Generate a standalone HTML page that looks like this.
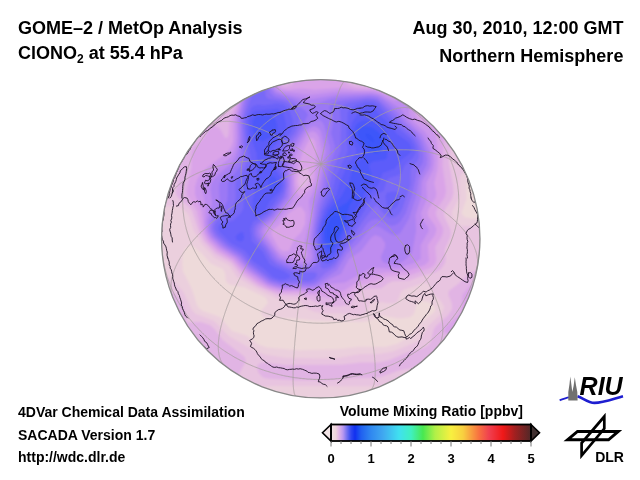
<!DOCTYPE html>
<html><head><meta charset="utf-8"><style>
html,body{margin:0;padding:0;background:#fff;width:640px;height:480px;overflow:hidden}
svg{display:block}
text{font-family:"Liberation Sans",Arial,Helvetica,sans-serif;font-weight:bold;fill:#000}
</style></head><body>
<svg width="640" height="480" viewBox="0 0 640 480">
<defs>
<clipPath id="gc"><circle cx="320.75" cy="238.75" r="159.4"/></clipPath>
<filter id="bl" x="-10%" y="-10%" width="120%" height="120%"><feGaussianBlur stdDeviation="1.3"/></filter>
<linearGradient id="cb" x1="0" x2="1" y1="0" y2="0">
<stop offset="0" stop-color="#f2e4e6"/>
<stop offset="0.024" stop-color="#eed4dc"/>
<stop offset="0.04" stop-color="#e2b6e6"/>
<stop offset="0.06" stop-color="#b898f0"/>
<stop offset="0.08" stop-color="#7070f0"/>
<stop offset="0.10" stop-color="#3048f0"/>
<stop offset="0.12" stop-color="#1030f0"/>
<stop offset="0.15" stop-color="#2060f0"/>
<stop offset="0.20" stop-color="#3088f0"/>
<stop offset="0.26" stop-color="#40a8f0"/>
<stop offset="0.34" stop-color="#40e0f0"/>
<stop offset="0.40" stop-color="#40f0c0"/>
<stop offset="0.46" stop-color="#48e850"/>
<stop offset="0.52" stop-color="#b0f048"/>
<stop offset="0.60" stop-color="#f8f040"/>
<stop offset="0.66" stop-color="#f8d040"/>
<stop offset="0.70" stop-color="#f8a040"/>
<stop offset="0.74" stop-color="#f87040"/>
<stop offset="0.79" stop-color="#f04050"/>
<stop offset="0.86" stop-color="#f01818"/>
<stop offset="0.92" stop-color="#a02020"/>
<stop offset="1" stop-color="#502828"/>
</linearGradient>
</defs>
<g font-size="18">
<text x="18" y="33.7">GOME–2 / MetOp Analysis</text>
<text x="18" y="59.1">ClONO<tspan font-size="12" dy="4">2</tspan><tspan dy="-4"> at 55.4 hPa</tspan></text>
<text x="623.6" y="33.9" text-anchor="end">Aug 30, 2010, 12:00 GMT</text>
<text x="623.4" y="62" text-anchor="end">Northern Hemisphere</text>
</g>
<g font-size="14">
<text x="18" y="417.2">4DVar Chemical Data Assimilation</text>
<text x="18" y="439.7">SACADA Version 1.7</text>
<text x="18" y="461.5">http://wdc.dlr.de</text>
<text x="431.3" y="415.5" text-anchor="middle">Volume Mixing Ratio [ppbv]</text>
</g>
<!-- globe -->
<g clip-path="url(#gc)">
<circle cx="320.75" cy="238.75" r="159.4" fill="#efdbdb"/>
<g filter="url(#bl)"><rect x="150" y="70" width="340" height="340" fill="#eedada"/><path d="M527.0,445.2 112.8,445.0 113.0,30.8 527.1,31.0 527.0,177.4 493.0,177.6 477.0,176.7 471.0,177.8 468.8,179.0 466.2,183.0 466.5,199.0 461.4,213.0 464.4,217.0 471.0,218.6 527.0,218.6 527.0,445.2Z M340.3,349.0 359.0,346.7 385.0,347.0 397.0,344.0 413.0,334.2 421.0,322.5 433.4,313.0 435.0,310.8 434.9,307.0 429.0,302.3 421.0,300.6 417.0,303.0 414.2,313.0 413.0,315.1 409.0,317.6 399.0,318.4 383.0,315.8 369.0,320.7 361.0,322.1 317.0,320.7 293.0,318.3 267.0,318.3 263.0,316.8 260.6,313.0 261.0,311.0 267.9,303.0 266.7,299.0 264.6,297.0 243.7,287.0 229.0,284.5 225.9,281.0 225.0,272.7 222.9,269.0 211.0,263.7 201.0,252.4 193.0,246.1 189.0,245.7 184.7,249.0 182.2,257.0 182.8,271.0 191.9,289.0 197.0,305.1 199.9,309.0 203.0,311.0 219.9,317.0 232.0,331.0 247.0,335.8 259.0,344.8 267.0,347.6 299.0,350.2 340.3,349.0Z" fill="#ebcfdd" fill-rule="evenodd"/><path d="M527.0,445.1 413.9,445.0 413.9,387.0 413.0,383.0 409.0,381.2 389.0,385.6 381.0,386.4 273.0,385.8 262.5,387.0 259.0,389.2 257.2,395.0 258.9,411.0 258.5,445.0 112.9,445.0 113.0,276.5 147.0,276.8 161.0,275.0 167.0,275.9 173.0,280.2 183.0,291.3 191.6,309.0 195.0,313.4 214.2,321.0 229.0,336.3 255.1,351.0 265.0,354.5 287.0,358.1 335.0,358.4 359.0,354.2 379.0,354.1 393.0,351.5 415.0,342.5 420.6,339.0 429.0,325.0 442.2,313.0 444.2,307.0 441.0,301.2 431.9,293.0 429.0,284.7 425.0,282.6 403.0,289.9 400.5,293.0 397.6,301.0 395.0,302.9 389.0,303.2 370.5,301.0 367.5,311.0 361.0,315.1 355.0,315.4 341.0,313.4 323.0,313.4 313.0,311.5 308.2,309.0 299.1,301.0 293.0,299.9 283.0,300.2 277.0,298.7 257.0,289.0 237.0,277.1 229.0,265.3 215.0,258.3 202.3,245.0 193.9,231.0 188.8,215.0 183.0,208.8 177.0,206.6 171.0,205.9 113.0,205.9 113.0,30.9 220.7,31.0 220.9,65.0 219.8,81.0 221.0,87.0 227.0,100.8 229.0,100.6 230.3,95.0 229.2,81.0 229.4,31.0 527.0,31.0 527.0,170.4 473.0,170.4 467.0,171.0 463.0,172.6 460.9,175.0 459.6,179.0 459.6,197.0 452.3,211.0 451.7,215.0 455.0,222.1 461.0,225.9 527.0,225.6 527.0,445.1Z" fill="#e8c4e0" fill-rule="evenodd"/><path d="M349.0,305.0 339.0,306.5 327.0,305.9 301.0,296.3 277.0,294.7 257.0,286.0 241.0,274.9 231.0,262.8 215.0,253.4 203.5,241.0 199.4,233.0 192.1,211.0 189.0,206.8 179.4,199.0 176.3,195.0 175.7,191.0 178.5,181.0 178.8,175.0 177.0,165.4 174.6,161.0 171.0,158.8 165.0,157.8 113.0,158.1 113.0,31.0 210.5,31.0 210.8,65.0 209.5,83.0 211.0,87.0 217.8,97.0 222.3,111.0 225.0,112.4 231.0,108.0 234.2,99.0 233.6,31.0 467.4,31.0 467.2,87.0 463.6,93.0 453.0,100.1 450.6,107.0 451.9,123.0 449.0,163.0 453.1,185.0 453.6,193.0 451.9,199.0 445.3,209.0 444.0,213.0 444.5,217.0 450.2,229.0 450.9,233.0 450.4,237.0 445.0,249.0 445.7,259.0 445.0,263.0 441.1,269.0 435.0,272.6 423.0,275.5 409.0,280.6 393.0,281.2 388.5,283.0 381.0,288.6 367.0,288.7 361.0,289.9 356.4,293.0 351.5,303.0 349.0,305.0Z M389.2,83.0 389.8,79.0 389.0,75.6 387.0,73.2 385.0,72.8 375.0,75.8 361.0,75.2 356.5,79.0 357.0,81.4 361.0,83.5 375.0,83.3 385.0,85.0 389.2,83.0Z M527.0,445.0 448.3,445.0 448.6,391.0 445.0,385.0 435.6,379.0 429.0,369.9 425.0,367.3 417.0,367.0 399.0,370.5 381.0,376.9 375.0,377.9 357.0,377.9 329.0,380.4 299.0,380.5 269.0,378.8 263.0,377.4 258.6,373.0 257.2,369.0 257.4,365.0 260.6,363.0 265.0,362.6 285.0,365.0 341.0,364.8 361.0,362.6 379.0,362.4 389.0,360.3 407.0,352.5 423.0,348.3 428.7,345.0 431.0,341.0 433.1,331.0 435.1,327.0 448.2,315.0 452.0,309.0 451.7,303.0 448.4,295.0 448.7,291.0 459.0,283.3 469.0,273.0 477.0,270.3 493.0,271.5 527.0,271.3 527.0,445.0Z M223.0,445.0 113.0,445.0 113.0,288.6 147.0,288.9 163.0,287.5 169.0,289.1 177.0,295.5 182.3,303.0 184.5,309.0 187.0,322.3 201.0,322.0 210.0,325.0 214.4,329.0 223.0,340.3 244.7,357.0 246.0,361.0 237.4,377.0 227.0,385.1 223.5,391.0 223.8,445.0 223.0,445.0Z" fill="#e1b4e4" fill-rule="evenodd"/><path d="M339.0,299.2 298.3,293.0 277.0,292.3 265.0,288.0 257.0,283.3 243.0,272.9 232.5,261.0 217.0,251.5 206.6,241.0 201.6,231.0 196.9,211.0 187.0,195.0 186.8,189.0 191.3,167.0 191.4,153.0 193.7,147.0 202.9,139.0 209.0,129.0 213.0,126.2 217.0,126.5 220.3,129.0 225.0,137.7 227.0,138.0 228.6,135.0 229.6,119.0 235.0,106.6 236.7,99.0 236.2,31.0 283.5,31.0 283.0,52.6 285.0,59.3 287.0,59.9 289.9,51.0 289.3,31.0 351.8,31.0 351.2,51.0 353.9,65.0 352.3,69.0 343.9,79.0 344.0,81.0 349.1,85.0 355.3,87.0 375.0,87.5 389.0,90.7 393.0,89.5 395.4,83.0 394.8,31.0 460.3,31.0 460.0,65.0 461.3,83.0 458.0,89.0 447.1,97.0 444.5,105.0 444.7,121.0 442.4,165.0 446.1,191.0 444.8,197.0 437.0,209.0 435.7,213.0 436.9,217.0 442.6,227.0 443.3,231.0 441.4,237.0 435.1,247.0 436.4,259.0 435.5,263.0 433.0,266.2 429.0,268.6 411.0,274.7 387.0,276.5 375.0,281.8 361.0,285.0 353.8,289.0 345.0,297.3 339.0,299.2Z M291.6,85.0 294.5,81.0 294.0,77.0 287.0,67.2 285.0,67.5 280.6,75.0 280.3,83.0 281.7,85.0 285.0,86.4 291.6,85.0Z M306.4,187.0 309.4,183.0 310.7,177.0 309.5,171.0 307.0,168.0 305.0,168.1 301.0,171.4 298.9,175.0 297.6,181.0 299.0,186.8 301.0,188.6 303.0,188.9 306.4,187.0Z M527.0,350.0 473.0,350.3 467.6,347.0 462.1,339.0 459.0,336.5 445.0,333.0 443.8,331.0 444.8,327.0 458.4,315.0 461.2,311.0 462.5,295.0 468.8,287.0 473.0,284.1 477.0,283.1 493.0,285.0 527.0,284.7 527.0,350.0Z M171.0,349.1 163.0,350.6 113.0,350.1 113.0,300.1 147.0,300.5 163.0,298.8 167.0,299.7 171.0,302.1 174.9,307.0 175.9,311.0 173.7,327.0 176.1,341.0 175.0,345.5 171.0,349.1Z" fill="#daa4e8" fill-rule="evenodd"/><path d="M341.0,291.4 329.0,290.6 313.0,292.7 297.0,290.8 281.0,291.0 269.0,287.8 257.2,281.0 244.2,271.0 233.1,259.0 219.0,250.2 209.0,240.5 204.6,233.0 201.4,211.0 195.2,195.0 195.0,187.0 197.4,179.0 201.0,173.4 209.0,166.0 227.0,152.7 231.0,147.0 233.0,141.2 233.3,119.0 237.7,105.0 238.9,97.0 238.4,31.0 278.2,31.0 278.7,65.0 276.7,81.0 278.9,87.0 282.2,89.0 289.0,89.8 301.0,88.4 315.0,89.7 341.0,87.8 357.0,90.0 375.0,90.0 393.0,95.7 397.0,93.0 399.3,85.0 399.2,31.0 420.6,31.0 420.6,95.0 419.8,101.0 415.9,111.0 415.5,115.0 419.0,120.2 430.7,127.0 434.2,131.0 436.4,139.0 438.0,157.0 437.6,169.0 434.2,183.0 436.2,193.0 435.9,197.0 428.7,209.0 427.5,213.0 428.6,217.0 434.8,225.0 436.5,229.0 435.1,235.0 427.8,245.0 429.0,261.0 425.0,265.1 409.0,270.3 385.0,272.5 377.0,274.3 357.0,282.0 345.0,289.9 341.0,291.4Z M304.7,195.0 311.0,188.1 314.5,179.0 316.6,149.0 315.2,141.0 313.0,138.1 311.0,138.1 309.0,139.9 303.1,151.0 295.0,177.0 295.0,185.0 297.0,192.7 299.0,195.8 301.0,196.7 304.7,195.0Z M289.0,251.0 294.2,239.0 301.0,232.5 305.0,223.8 305.5,213.0 301.0,206.6 297.0,207.2 289.0,213.0 279.2,225.0 271.4,231.0 271.6,235.0 279.0,248.2 283.0,251.3 289.0,251.0Z" fill="#cc98ec" fill-rule="evenodd"/><path d="M319.0,289.3 311.0,290.3 297.0,288.9 281.0,289.2 267.0,285.0 247.0,270.7 235.0,258.1 219.0,247.4 210.3,239.0 206.0,231.0 205.0,223.0 205.8,207.0 202.4,191.0 203.4,183.0 209.3,175.0 229.0,158.8 233.0,152.6 235.4,145.0 236.3,137.0 235.8,119.0 239.7,105.0 240.8,97.0 240.5,31.0 275.4,31.0 275.7,65.0 274.4,81.0 275.9,87.0 280.5,91.0 311.0,94.8 337.0,91.4 373.0,91.9 381.0,93.9 391.0,99.5 395.0,100.7 399.0,99.6 401.0,97.2 403.7,87.0 403.8,31.0 414.9,31.0 414.9,93.0 413.4,101.0 409.5,109.0 409.2,115.0 412.8,121.0 424.3,131.0 428.8,137.0 432.5,147.0 434.4,161.0 433.0,170.2 426.3,183.0 427.1,199.0 421.0,213.0 422.1,219.0 428.0,227.0 428.9,231.0 420.7,245.0 420.6,259.0 415.0,262.7 399.0,267.9 389.0,268.6 375.0,267.6 371.0,268.4 345.0,282.6 331.0,283.9 319.0,289.3Z M306.0,259.0 307.7,255.0 304.6,243.0 310.2,217.0 308.9,201.0 316.9,183.0 321.7,151.0 318.8,137.0 316.5,133.0 313.0,131.2 309.0,132.8 306.9,135.0 296.1,155.0 292.9,175.0 293.8,197.0 292.0,203.0 276.6,221.0 268.7,227.0 265.7,231.0 267.0,235.6 277.0,250.7 281.0,254.6 287.0,257.3 299.0,260.2 303.0,260.2 306.0,259.0Z" fill="#be8cf0" fill-rule="evenodd"/><path d="M317.0,287.2 311.0,288.2 297.0,287.1 281.0,287.6 275.0,286.4 267.0,283.1 248.0,269.0 236.5,257.0 221.4,247.0 211.2,237.0 208.0,231.0 207.5,221.0 212.2,203.0 210.4,189.0 211.4,183.0 215.9,177.0 231.6,163.0 235.3,157.0 237.6,149.0 238.5,139.0 238.0,119.0 242.8,97.0 242.5,31.0 273.0,31.0 272.4,83.0 274.2,89.0 277.0,91.8 283.0,94.1 309.0,99.5 339.0,94.4 371.0,93.7 379.0,95.3 401.0,109.0 408.1,121.0 422.5,135.0 429.0,149.0 430.7,157.0 430.6,165.0 429.0,169.5 423.0,178.9 421.8,183.0 421.2,197.0 415.5,215.0 416.1,231.0 412.4,251.0 410.6,255.0 403.6,261.0 397.0,264.0 391.0,264.6 384.5,263.0 382.1,261.0 380.9,257.0 385.0,247.0 385.2,243.0 380.9,237.0 375.0,235.0 371.0,237.8 361.0,251.0 349.0,258.8 341.0,273.8 329.0,279.6 317.0,287.2Z M308.0,263.0 310.6,261.0 311.9,257.0 309.9,239.0 313.2,215.0 313.6,201.0 319.5,185.0 325.9,151.0 321.0,132.1 319.0,128.6 315.0,126.3 311.0,126.9 306.0,131.0 292.6,153.0 290.9,163.0 290.8,195.0 289.0,201.0 274.4,219.0 264.1,227.0 262.2,231.0 264.2,237.0 279.4,257.0 287.0,260.9 295.0,263.5 303.0,264.2 308.0,263.0Z" fill="#ac82f2" fill-rule="evenodd"/><path d="M315.0,285.3 309.0,286.2 297.0,285.2 281.0,285.9 269.0,282.2 249.0,267.3 239.0,256.6 224.4,247.0 213.6,237.0 210.1,231.0 209.4,227.0 210.1,221.0 217.8,207.0 219.8,201.0 218.9,187.0 219.7,183.0 222.2,179.0 235.6,165.0 239.7,155.0 240.7,143.0 240.1,119.0 244.8,97.0 244.5,31.0 270.7,31.0 270.3,83.0 271.4,89.0 275.0,93.5 293.4,99.0 305.0,103.8 311.0,104.9 317.0,104.1 329.0,99.2 337.0,97.7 369.0,95.6 377.0,96.6 383.0,100.0 397.0,111.6 405.9,123.0 416.9,133.0 422.3,141.0 426.0,151.0 427.3,159.0 426.7,165.0 419.1,179.0 416.5,195.0 409.0,218.7 401.0,231.9 399.0,234.1 395.0,235.5 391.0,234.3 379.0,226.8 375.0,226.2 371.0,227.8 358.7,243.0 347.0,254.1 337.0,270.3 315.0,285.3Z M303.0,267.0 311.0,265.0 314.2,261.0 314.6,255.0 312.6,235.0 316.7,205.0 322.2,187.0 325.3,169.0 330.0,153.0 329.8,147.0 324.0,125.0 321.4,121.0 319.0,120.2 313.0,121.2 307.0,125.0 289.6,151.0 287.6,159.0 289.1,185.0 287.8,197.0 273.0,217.0 262.5,225.0 259.2,231.0 261.0,237.0 277.8,259.0 291.0,265.2 303.0,267.0Z" fill="#9b78f5" fill-rule="evenodd"/><path d="M313.0,283.4 281.0,284.1 270.5,281.0 249.4,265.0 240.4,255.0 225.1,245.0 215.0,235.5 212.3,231.0 211.6,227.0 213.0,221.0 223.1,209.0 227.4,201.0 227.9,183.0 239.6,167.0 242.6,159.0 243.2,149.0 241.9,121.0 247.2,97.0 246.8,31.0 268.3,31.0 268.1,83.0 270.0,93.0 275.0,96.7 287.0,99.7 294.1,103.0 305.8,111.0 308.0,115.0 297.0,135.1 288.1,147.0 285.0,153.0 284.1,161.0 287.3,185.0 285.1,197.0 271.7,215.0 259.0,225.0 256.8,229.0 256.6,233.0 257.8,237.0 266.4,247.0 273.0,257.6 277.0,261.6 289.0,267.2 299.0,269.7 311.0,268.3 315.0,266.1 316.7,263.0 317.0,257.0 314.7,239.0 315.7,225.0 319.7,205.0 325.2,189.0 328.4,171.0 334.9,151.0 334.5,145.0 331.1,133.0 333.3,121.0 332.9,117.0 329.4,109.0 329.3,107.0 331.0,104.4 339.0,101.0 349.0,99.5 369.0,97.4 377.6,99.0 395.0,114.3 403.9,125.0 415.1,135.0 419.1,141.0 422.1,149.0 423.4,157.0 422.6,163.0 416.6,173.0 413.0,191.6 405.8,213.0 401.0,220.7 397.0,224.3 393.0,225.8 389.0,225.0 377.0,218.8 371.0,220.2 367.0,223.7 357.7,237.0 345.0,251.5 335.4,267.0 325.0,273.6 317.5,281.0 313.0,283.4Z" fill="#8a70f6" fill-rule="evenodd"/><path d="M309.0,281.3 297.0,280.3 281.0,282.2 271.0,279.0 251.0,263.3 241.9,253.0 228.6,245.0 217.0,234.3 214.3,229.0 214.5,225.0 216.8,221.0 227.4,213.0 234.7,203.0 235.8,197.0 235.3,183.0 244.0,169.0 246.2,163.0 246.6,153.0 243.9,123.0 245.0,115.0 250.6,99.0 249.3,81.0 249.5,31.0 265.6,31.0 265.3,93.0 266.1,97.0 269.2,99.0 281.0,100.7 287.5,103.0 294.6,109.0 299.4,117.0 298.6,123.0 295.0,132.5 284.0,147.0 280.6,155.0 280.9,163.0 285.3,179.0 285.4,187.0 284.2,193.0 282.3,197.0 269.0,214.7 255.4,225.0 253.9,229.0 254.0,235.0 256.8,241.0 264.7,249.0 271.0,259.6 277.0,264.7 295.0,272.4 313.0,271.9 316.8,273.0 317.0,275.0 314.7,279.0 309.0,281.3Z M329.0,267.7 323.0,268.7 320.8,267.0 316.9,243.0 316.6,231.0 321.0,209.8 328.0,193.0 331.4,175.0 340.4,151.0 341.0,123.0 339.7,109.0 343.0,105.1 348.4,103.0 367.0,99.6 375.0,100.3 379.6,103.0 401.8,127.0 413.2,137.0 418.5,147.0 419.0,157.3 417.3,161.0 410.8,169.0 410.4,185.0 402.2,209.0 399.0,214.2 395.0,217.3 389.0,217.4 383.0,213.0 377.0,205.0 375.0,205.8 363.0,220.9 335.1,263.0 329.0,267.7Z" fill="#7869f8" fill-rule="evenodd"/><path d="M259.0,90.4 257.0,90.9 255.0,89.5 253.0,83.0 253.6,31.0 261.6,31.0 262.3,81.0 261.3,87.0 259.0,90.4Z M329.0,263.8 325.0,263.4 321.6,257.0 318.7,243.0 318.6,229.0 323.0,210.9 331.5,195.0 335.8,177.0 347.8,151.0 346.2,133.0 347.8,113.0 349.7,109.0 356.4,105.0 365.0,102.5 373.0,102.4 377.6,105.0 399.0,129.0 411.0,139.0 415.0,146.3 415.4,153.0 413.0,157.7 405.0,165.0 401.0,173.5 399.0,175.0 389.0,178.1 386.6,181.0 383.5,191.0 377.0,193.6 372.7,197.0 336.2,257.0 333.0,261.2 329.0,263.8Z M285.0,279.4 279.0,279.5 272.8,277.0 264.5,269.0 252.9,261.0 245.0,250.7 230.8,243.0 220.5,233.0 218.0,229.0 219.0,225.1 221.0,223.5 233.0,220.8 240.9,213.0 243.0,209.0 243.9,201.0 242.3,185.0 243.5,181.0 249.3,171.0 251.2,161.0 246.6,133.0 246.5,119.0 251.0,108.3 253.0,106.3 257.0,104.8 265.0,105.2 277.0,103.5 283.0,104.8 286.4,107.0 289.6,111.0 293.0,120.8 292.7,127.0 291.0,132.0 279.2,147.0 276.1,155.0 276.8,163.0 283.3,179.0 283.6,185.0 282.5,191.0 267.0,213.2 253.0,221.7 250.4,229.0 251.8,241.0 263.0,252.1 269.0,263.4 273.0,266.6 283.7,271.0 289.8,275.0 290.2,277.0 285.0,279.4Z M393.0,209.5 389.0,208.1 386.9,205.0 385.4,197.0 387.0,192.4 395.0,191.6 397.0,192.2 399.0,194.4 398.7,203.0 396.7,207.0 393.0,209.5Z" fill="#6a62f9" fill-rule="evenodd"/><path d="M329.0,259.7 325.0,257.8 321.0,245.9 320.0,233.0 321.9,221.0 326.5,209.0 336.3,195.0 339.8,183.0 347.4,165.0 356.3,153.0 356.2,149.0 351.8,141.0 350.2,135.0 350.3,129.0 351.9,123.0 357.0,114.7 361.9,109.0 367.0,106.5 371.0,106.3 375.0,108.6 379.3,115.0 389.0,123.7 397.0,134.1 409.0,142.4 411.2,147.0 411.2,151.0 409.0,154.3 401.0,160.0 395.0,168.5 382.7,173.0 377.9,185.0 369.0,194.6 337.0,251.2 333.0,257.1 329.0,259.7Z M261.0,213.5 255.0,213.8 253.0,212.0 252.1,209.0 252.5,201.0 257.0,182.0 257.3,161.0 256.4,153.0 249.3,133.0 248.9,121.0 251.0,114.8 255.0,111.1 277.0,108.7 281.0,110.3 283.0,113.0 285.9,123.0 286.1,129.0 283.3,135.0 271.7,149.0 270.0,157.0 272.0,165.0 280.2,177.0 281.3,181.0 281.1,187.0 279.0,192.0 269.9,201.0 265.0,210.6 261.0,213.5Z M241.0,241.6 237.0,240.5 235.6,237.0 237.0,234.7 241.0,232.0 243.0,232.3 244.1,237.0 243.0,240.5 241.0,241.6Z" fill="#5c5cfa" fill-rule="evenodd"/><path d="M263.0,141.0 259.0,140.1 255.0,136.0 252.5,129.0 252.7,121.0 255.0,117.0 259.0,115.1 271.0,115.8 273.3,117.0 276.1,121.0 277.3,127.0 276.5,131.0 271.0,137.3 263.0,141.0Z M329.0,255.2 327.0,254.4 325.0,251.6 322.2,241.0 321.9,231.0 323.9,221.0 329.0,210.1 340.9,197.0 349.6,181.0 352.2,169.0 354.1,165.0 363.8,157.0 363.9,153.0 362.4,149.0 354.2,137.0 353.6,133.0 354.9,127.0 357.0,123.9 361.0,121.1 365.0,120.1 371.0,120.7 383.0,126.8 387.5,133.0 388.4,139.0 387.1,157.0 385.0,159.7 374.7,161.0 370.0,163.0 369.2,167.0 371.9,177.0 371.9,181.0 366.4,189.0 361.0,201.7 353.3,213.0 337.0,246.5 333.0,252.5 329.0,255.2Z M275.0,189.2 271.0,189.3 269.0,186.4 268.6,179.0 271.0,176.0 275.0,177.0 277.6,181.0 277.7,185.0 275.0,189.2Z" fill="#4d59fa" fill-rule="evenodd"/><path d="M377.0,153.8 371.0,152.3 359.0,138.0 357.5,133.0 358.8,129.0 361.0,127.0 365.0,125.9 371.0,127.1 377.5,131.0 380.8,135.0 382.5,141.0 382.2,147.0 380.8,151.0 377.0,153.8Z M331.0,249.2 329.0,249.8 327.0,248.3 324.1,239.0 324.1,229.0 326.9,219.0 333.0,210.7 346.3,203.0 353.0,195.5 355.0,197.1 349.8,205.0 342.7,229.0 337.0,241.1 331.0,249.2Z" fill="#3e56fa" fill-rule="evenodd"/><path d="M373.0,142.8 367.0,138.3 365.0,134.2 367.0,133.1 371.1,135.0 373.9,139.0 374.3,141.0 373.0,142.8Z M333.0,241.2 331.0,242.9 329.0,242.9 327.0,239.6 326.2,233.0 326.9,227.0 331.0,218.3 335.0,215.2 338.5,215.0 340.7,219.0 340.1,225.0 337.0,234.1 333.0,241.2Z" fill="#3753f9" fill-rule="evenodd"/></g>
<path d="M296.2,396.2 296.1,396.2 296.0,396.2 295.9,396.1 295.8,396.1 295.7,396.0 295.6,395.9 295.5,395.8 295.4,395.7 295.3,395.6 295.2,395.4 295.1,395.3 295.0,395.1 294.9,395.0 294.8,394.8 294.7,394.6 294.7,394.4 294.6,394.2 294.5,393.9 294.4,393.7 294.4,393.4 294.3,393.2 294.2,392.9 294.1,392.6 294.1,392.3 294.0,392.0 294.0,391.7 293.9,391.3 293.8,391.0 293.8,390.6 293.7,390.3 293.7,389.9 293.6,389.5 293.6,389.1 293.5,388.7 293.5,388.2 293.5,387.8 293.4,387.4 293.4,386.9 293.3,386.4 293.3,385.9 293.3,385.4 293.2,384.9 293.2,384.4 293.2,383.9 293.2,383.3 293.2,382.8 293.1,382.2 293.1,381.7 293.1,381.1 293.1,380.5 293.1,379.9 293.1,379.3 293.1,378.6 293.1,378.0 293.1,377.4 293.1,376.7 293.1,376.0 293.1,375.3 293.1,374.7 293.1,374.0 293.1,373.2 293.1,372.5 293.1,371.8 293.2,371.1 293.2,370.3 293.2,369.5 293.2,368.8 293.2,368.0 293.3,367.2 293.3,366.4 293.3,365.6 293.4,364.8 293.4,363.9 293.5,363.1 293.5,362.3 293.5,361.4 293.6,360.5 293.6,359.7 293.7,358.8 293.7,357.9 293.8,357.0 293.8,356.1 293.9,355.1 294.0,354.2 294.0,353.3 294.1,352.3 294.1,351.4 294.2,350.4 294.3,349.4 294.4,348.4 294.4,347.4 294.5,346.4 294.6,345.4 294.7,344.4 294.7,343.4 294.8,342.4 294.9,341.3 295.0,340.3 295.1,339.2 295.2,338.2 295.3,337.1 295.4,336.0 295.5,334.9 295.6,333.8 295.7,332.7 295.8,331.6 295.9,330.5 296.0,329.4 296.1,328.3 296.2,327.1 296.3,326.0 296.4,324.8 296.5,323.7 296.7,322.5 296.8,321.4 296.9,320.2 297.0,319.0 297.1,317.8 297.3,316.6 297.4,315.4 297.5,314.2 297.7,313.0 297.8,311.8 297.9,310.6 298.1,309.4 298.2,308.1 298.4,306.9 298.5,305.7 298.6,304.4 298.8,303.2 298.9,301.9 299.1,300.6 299.2,299.4 299.4,298.1 299.5,296.8 299.7,295.5 299.9,294.3 300.0,293.0 300.2,291.7 300.3,290.4 300.5,289.1 300.7,287.8 300.8,286.5 301.0,285.2 301.2,283.8 301.3,282.5 301.5,281.2 301.7,279.9 301.9,278.5 302.0,277.2 302.2,275.9 302.4,274.5 302.6,273.2 302.8,271.9 303.0,270.5 303.1,269.2 303.3,267.8 303.5,266.5 303.7,265.1 303.9,263.8 304.1,262.4 304.3,261.0 304.5,259.7 304.7,258.3 304.9,256.9 305.1,255.6 305.3,254.2 305.5,252.8 305.7,251.5 305.9,250.1 306.1,248.7 306.3,247.4 306.5,246.0 306.7,244.6 306.9,243.2 307.1,241.9 307.3,240.5 307.5,239.1 307.8,237.7 308.0,236.4 308.2,235.0 308.4,233.6 308.6,232.2 308.8,230.9 309.1,229.5 309.3,228.1 309.5,226.8 309.7,225.4 309.9,224.0 310.2,222.7 310.4,221.3 310.6,219.9 310.8,218.6 311.1,217.2 311.3,215.8 311.5,214.5 311.7,213.1 312.0,211.8 312.2,210.4 312.4,209.1 312.7,207.7 312.9,206.4 313.1,205.0 313.4,203.7 313.6,202.3 313.8,201.0 314.1,199.7 314.3,198.3 314.5,197.0 314.8,195.7 315.0,194.4 315.2,193.1 315.5,191.7 315.7,190.4 315.9,189.1 316.2,187.8 316.4,186.5 316.7,185.2 316.9,183.9 317.1,182.6 317.4,181.4 317.6,180.1 317.9,178.8 318.1,177.5 318.3,176.3 318.6,175.0 318.8,173.8 319.1,172.5 319.3,171.3 319.5,170.0 319.8,168.8 320.0,167.6 320.3,166.3 320.5,165.1 320.8,163.9 M369.5,390.5 369.8,390.4 370.0,390.3 370.2,390.2 370.4,390.1 370.6,390.0 370.7,389.9 370.9,389.7 371.1,389.6 371.3,389.4 371.5,389.2 371.6,389.0 371.8,388.8 372.0,388.6 372.1,388.4 372.3,388.2 372.5,387.9 372.6,387.7 372.7,387.4 372.9,387.1 373.0,386.8 373.2,386.5 373.3,386.2 373.4,385.9 373.5,385.5 373.6,385.2 373.8,384.8 373.9,384.4 374.0,384.1 374.1,383.7 374.2,383.3 374.3,382.9 374.4,382.4 374.4,382.0 374.5,381.5 374.6,381.1 374.7,380.6 374.7,380.1 374.8,379.6 374.9,379.1 374.9,378.6 375.0,378.1 375.0,377.6 375.1,377.0 375.1,376.5 375.1,375.9 375.2,375.3 375.2,374.7 375.2,374.1 375.2,373.5 375.2,372.9 375.3,372.3 375.3,371.7 375.3,371.0 375.3,370.3 375.3,369.7 375.2,369.0 375.2,368.3 375.2,367.6 375.2,366.9 375.2,366.2 375.1,365.5 375.1,364.7 375.1,364.0 375.0,363.2 375.0,362.5 374.9,361.7 374.9,360.9 374.8,360.1 374.7,359.3 374.7,358.5 374.6,357.7 374.5,356.8 374.4,356.0 374.4,355.2 374.3,354.3 374.2,353.4 374.1,352.6 374.0,351.7 373.9,350.8 373.8,349.9 373.6,349.0 373.5,348.1 373.4,347.1 373.3,346.2 373.2,345.3 373.0,344.3 372.9,343.3 372.7,342.4 372.6,341.4 372.5,340.4 372.3,339.4 372.1,338.4 372.0,337.4 371.8,336.4 371.6,335.4 371.5,334.4 371.3,333.3 371.1,332.3 370.9,331.3 370.7,330.2 370.6,329.1 370.4,328.1 370.2,327.0 370.0,325.9 369.8,324.8 369.5,323.7 369.3,322.6 369.1,321.5 368.9,320.4 368.7,319.3 368.4,318.1 368.2,317.0 368.0,315.9 367.7,314.7 367.5,313.6 367.2,312.4 367.0,311.3 366.7,310.1 366.5,308.9 366.2,307.7 365.9,306.5 365.7,305.4 365.4,304.2 365.1,303.0 364.9,301.8 364.6,300.6 364.3,299.3 364.0,298.1 363.7,296.9 363.4,295.7 363.1,294.4 362.8,293.2 362.5,292.0 362.2,290.7 361.9,289.5 361.6,288.2 361.3,287.0 360.9,285.7 360.6,284.4 360.3,283.2 360.0,281.9 359.6,280.6 359.3,279.4 359.0,278.1 358.6,276.8 358.3,275.5 357.9,274.2 357.6,272.9 357.2,271.6 356.9,270.3 356.5,269.0 356.2,267.7 355.8,266.4 355.4,265.1 355.1,263.8 354.7,262.5 354.3,261.2 353.9,259.9 353.6,258.6 353.2,257.3 352.8,255.9 352.4,254.6 352.0,253.3 351.6,252.0 351.2,250.7 350.8,249.3 350.4,248.0 350.0,246.7 349.6,245.4 349.2,244.0 348.8,242.7 348.4,241.4 348.0,240.1 347.6,238.7 347.2,237.4 346.8,236.1 346.3,234.8 345.9,233.4 345.5,232.1 345.1,230.8 344.6,229.5 344.2,228.1 343.8,226.8 343.4,225.5 342.9,224.2 342.5,222.9 342.1,221.5 341.6,220.2 341.2,218.9 340.7,217.6 340.3,216.3 339.8,215.0 339.4,213.7 338.9,212.4 338.5,211.1 338.0,209.7 337.6,208.4 337.1,207.1 336.7,205.9 336.2,204.6 335.8,203.3 335.3,202.0 334.9,200.7 334.4,199.4 333.9,198.1 333.5,196.9 333.0,195.6 332.5,194.3 332.1,193.0 331.6,191.8 331.2,190.5 330.7,189.3 330.2,188.0 329.7,186.8 329.3,185.5 328.8,184.3 328.3,183.1 327.9,181.8 327.4,180.6 326.9,179.4 326.4,178.2 326.0,176.9 325.5,175.7 325.0,174.5 324.6,173.3 324.1,172.1 323.6,170.9 323.1,169.8 322.7,168.6 322.2,167.4 321.7,166.2 321.2,165.1 320.8,163.9 M436.5,348.3 436.9,347.9 437.2,347.5 437.5,347.1 437.8,346.7 438.1,346.3 438.4,345.9 438.7,345.5 439.0,345.1 439.2,344.6 439.5,344.2 439.7,343.7 440.0,343.3 440.2,342.8 440.4,342.3 440.6,341.8 440.8,341.3 441.0,340.8 441.2,340.3 441.4,339.8 441.5,339.3 441.7,338.8 441.8,338.2 441.9,337.7 442.1,337.1 442.2,336.5 442.3,336.0 442.4,335.4 442.5,334.8 442.6,334.2 442.6,333.6 442.7,333.0 442.7,332.4 442.8,331.8 442.8,331.1 442.8,330.5 442.9,329.9 442.9,329.2 442.9,328.6 442.8,327.9 442.8,327.2 442.8,326.6 442.7,325.9 442.7,325.2 442.6,324.5 442.6,323.8 442.5,323.1 442.4,322.4 442.3,321.6 442.2,320.9 442.1,320.2 441.9,319.4 441.8,318.7 441.7,317.9 441.5,317.2 441.4,316.4 441.2,315.6 441.0,314.8 440.8,314.1 440.6,313.3 440.4,312.5 440.2,311.7 440.0,310.9 439.7,310.1 439.5,309.2 439.2,308.4 439.0,307.6 438.7,306.8 438.4,305.9 438.1,305.1 437.8,304.2 437.5,303.4 437.2,302.5 436.9,301.7 436.5,300.8 436.2,299.9 435.9,299.0 435.5,298.2 435.1,297.3 434.7,296.4 434.4,295.5 434.0,294.6 433.6,293.7 433.2,292.8 432.7,291.9 432.3,291.0 431.9,290.0 431.4,289.1 431.0,288.2 430.5,287.3 430.0,286.3 429.5,285.4 429.1,284.4 428.6,283.5 428.1,282.5 427.5,281.6 427.0,280.6 426.5,279.7 426.0,278.7 425.4,277.8 424.9,276.8 424.3,275.8 423.7,274.8 423.2,273.9 422.6,272.9 422.0,271.9 421.4,270.9 420.8,269.9 420.2,268.9 419.5,268.0 418.9,267.0 418.3,266.0 417.6,265.0 417.0,264.0 416.3,263.0 415.6,262.0 415.0,261.0 414.3,259.9 413.6,258.9 412.9,257.9 412.2,256.9 411.5,255.9 410.8,254.9 410.1,253.9 409.3,252.9 408.6,251.8 407.8,250.8 407.1,249.8 406.3,248.8 405.6,247.8 404.8,246.7 404.0,245.7 403.2,244.7 402.5,243.7 401.7,242.6 400.9,241.6 400.1,240.6 399.2,239.6 398.4,238.6 397.6,237.5 396.8,236.5 395.9,235.5 395.1,234.5 394.2,233.4 393.4,232.4 392.5,231.4 391.7,230.4 390.8,229.3 389.9,228.3 389.0,227.3 388.1,226.3 387.3,225.3 386.4,224.2 385.5,223.2 384.6,222.2 383.6,221.2 382.7,220.2 381.8,219.2 380.9,218.2 379.9,217.2 379.0,216.2 378.1,215.1 377.1,214.1 376.2,213.1 375.2,212.1 374.3,211.1 373.3,210.2 372.4,209.2 371.4,208.2 370.4,207.2 369.4,206.2 368.5,205.2 367.5,204.2 366.5,203.3 365.5,202.3 364.5,201.3 363.5,200.3 362.5,199.4 361.5,198.4 360.5,197.4 359.5,196.5 358.5,195.5 357.5,194.6 356.5,193.6 355.4,192.7 354.4,191.8 353.4,190.8 352.4,189.9 351.3,189.0 350.3,188.0 349.3,187.1 348.2,186.2 347.2,185.3 346.1,184.4 345.1,183.5 344.0,182.6 343.0,181.7 342.0,180.8 340.9,179.9 339.9,179.0 338.8,178.1 337.7,177.2 336.7,176.4 335.6,175.5 334.6,174.6 333.5,173.8 332.5,172.9 331.4,172.1 330.3,171.2 329.3,170.4 328.2,169.6 327.1,168.8 326.1,167.9 325.0,167.1 323.9,166.3 322.9,165.5 321.8,164.7 320.8,163.9 M477.1,269.6 477.2,269.0 477.3,268.4 477.4,267.7 477.5,267.1 477.6,266.4 477.6,265.8 477.7,265.1 477.7,264.5 477.7,263.8 477.7,263.2 477.7,262.5 477.7,261.9 477.7,261.2 477.6,260.6 477.6,259.9 477.5,259.2 477.4,258.6 477.3,257.9 477.2,257.2 477.1,256.6 477.0,255.9 476.9,255.2 476.7,254.6 476.6,253.9 476.4,253.2 476.2,252.5 476.0,251.9 475.8,251.2 475.6,250.5 475.3,249.8 475.1,249.1 474.8,248.5 474.6,247.8 474.3,247.1 474.0,246.4 473.7,245.7 473.4,245.0 473.1,244.4 472.7,243.7 472.4,243.0 472.0,242.3 471.6,241.6 471.3,240.9 470.9,240.2 470.5,239.6 470.0,238.9 469.6,238.2 469.2,237.5 468.7,236.8 468.3,236.1 467.8,235.4 467.3,234.7 466.8,234.1 466.3,233.4 465.8,232.7 465.2,232.0 464.7,231.3 464.2,230.6 463.6,230.0 463.0,229.3 462.4,228.6 461.8,227.9 461.2,227.2 460.6,226.6 460.0,225.9 459.4,225.2 458.7,224.5 458.0,223.8 457.4,223.2 456.7,222.5 456.0,221.8 455.3,221.2 454.6,220.5 453.9,219.8 453.1,219.2 452.4,218.5 451.7,217.8 450.9,217.2 450.1,216.5 449.3,215.8 448.5,215.2 447.7,214.5 446.9,213.9 446.1,213.2 445.3,212.6 444.5,211.9 443.6,211.3 442.7,210.6 441.9,210.0 441.0,209.4 440.1,208.7 439.2,208.1 438.3,207.5 437.4,206.8 436.5,206.2 435.6,205.6 434.6,205.0 433.7,204.3 432.7,203.7 431.8,203.1 430.8,202.5 429.8,201.9 428.8,201.3 427.8,200.7 426.8,200.1 425.8,199.5 424.8,198.9 423.7,198.3 422.7,197.7 421.7,197.1 420.6,196.6 419.5,196.0 418.5,195.4 417.4,194.8 416.3,194.3 415.2,193.7 414.1,193.1 413.0,192.6 411.9,192.0 410.8,191.5 409.7,190.9 408.5,190.4 407.4,189.8 406.2,189.3 405.1,188.8 403.9,188.2 402.8,187.7 401.6,187.2 400.4,186.7 399.2,186.2 398.0,185.7 396.9,185.1 395.7,184.6 394.4,184.1 393.2,183.7 392.0,183.2 390.8,182.7 389.6,182.2 388.3,181.7 387.1,181.3 385.8,180.8 384.6,180.3 383.3,179.9 382.1,179.4 380.8,179.0 379.6,178.5 378.3,178.1 377.0,177.6 375.7,177.2 374.4,176.8 373.2,176.4 371.9,176.0 370.6,175.5 369.3,175.1 368.0,174.7 366.6,174.3 365.3,173.9 364.0,173.6 362.7,173.2 361.4,172.8 360.1,172.4 358.7,172.1 357.4,171.7 356.1,171.3 354.7,171.0 353.4,170.6 352.0,170.3 350.7,170.0 349.4,169.6 348.0,169.3 346.7,169.0 345.3,168.7 344.0,168.4 342.6,168.0 341.2,167.7 339.9,167.5 338.5,167.2 337.2,166.9 335.8,166.6 334.4,166.3 333.1,166.1 331.7,165.8 330.3,165.5 329.0,165.3 327.6,165.1 326.2,164.8 324.9,164.6 323.5,164.4 322.1,164.1 320.8,163.9 M468.0,177.8 467.8,177.2 467.5,176.7 467.3,176.1 467.0,175.6 466.7,175.0 466.4,174.5 466.1,173.9 465.8,173.4 465.4,172.9 465.1,172.4 464.7,171.9 464.4,171.3 464.0,170.8 463.6,170.3 463.2,169.8 462.8,169.4 462.4,168.9 461.9,168.4 461.5,167.9 461.1,167.5 460.6,167.0 460.1,166.5 459.6,166.1 459.1,165.6 458.6,165.2 458.1,164.8 457.6,164.3 457.1,163.9 456.5,163.5 455.9,163.1 455.4,162.7 454.8,162.3 454.2,161.9 453.6,161.5 453.0,161.1 452.4,160.7 451.8,160.4 451.1,160.0 450.5,159.6 449.8,159.3 449.1,158.9 448.5,158.6 447.8,158.3 447.1,157.9 446.4,157.6 445.7,157.3 444.9,157.0 444.2,156.7 443.4,156.4 442.7,156.1 441.9,155.8 441.2,155.5 440.4,155.3 439.6,155.0 438.8,154.7 438.0,154.5 437.2,154.2 436.3,154.0 435.5,153.8 434.6,153.5 433.8,153.3 432.9,153.1 432.1,152.9 431.2,152.7 430.3,152.5 429.4,152.3 428.5,152.1 427.6,152.0 426.7,151.8 425.7,151.6 424.8,151.5 423.9,151.3 422.9,151.2 421.9,151.1 421.0,150.9 420.0,150.8 419.0,150.7 418.0,150.6 417.0,150.5 416.0,150.4 415.0,150.3 414.0,150.2 413.0,150.1 411.9,150.1 410.9,150.0 409.8,150.0 408.8,149.9 407.7,149.9 406.7,149.8 405.6,149.8 404.5,149.8 403.4,149.8 402.3,149.8 401.2,149.8 400.1,149.8 399.0,149.8 397.9,149.8 396.8,149.8 395.6,149.9 394.5,149.9 393.4,150.0 392.2,150.0 391.1,150.1 389.9,150.1 388.8,150.2 387.6,150.3 386.4,150.4 385.2,150.5 384.1,150.6 382.9,150.7 381.7,150.8 380.5,150.9 379.3,151.1 378.1,151.2 376.9,151.3 375.6,151.5 374.4,151.6 373.2,151.8 372.0,152.0 370.7,152.1 369.5,152.3 368.3,152.5 367.0,152.7 365.8,152.9 364.5,153.1 363.3,153.3 362.0,153.5 360.8,153.8 359.5,154.0 358.3,154.2 357.0,154.5 355.7,154.7 354.4,155.0 353.2,155.3 351.9,155.5 350.6,155.8 349.3,156.1 348.0,156.4 346.8,156.7 345.5,157.0 344.2,157.3 342.9,157.6 341.6,157.9 340.3,158.3 339.0,158.6 337.7,158.9 336.4,159.3 335.1,159.6 333.8,160.0 332.5,160.4 331.2,160.7 329.9,161.1 328.6,161.5 327.3,161.9 326.0,162.3 324.7,162.7 323.4,163.1 322.1,163.5 320.8,163.9 M415.4,110.5 415.1,110.3 414.7,110.0 414.4,109.8 414.0,109.6 413.6,109.4 413.2,109.2 412.8,109.0 412.4,108.9 412.0,108.7 411.6,108.6 411.2,108.4 410.8,108.3 410.4,108.2 409.9,108.1 409.5,108.0 409.0,107.9 408.6,107.8 408.1,107.7 407.6,107.7 407.2,107.6 406.7,107.6 406.2,107.5 405.7,107.5 405.2,107.5 404.7,107.5 404.2,107.5 403.6,107.5 403.1,107.6 402.6,107.6 402.0,107.7 401.5,107.7 400.9,107.8 400.4,107.9 399.8,108.0 399.2,108.1 398.7,108.2 398.1,108.3 397.5,108.4 396.9,108.6 396.3,108.7 395.7,108.9 395.1,109.0 394.5,109.2 393.8,109.4 393.2,109.6 392.6,109.8 391.9,110.0 391.3,110.3 390.6,110.5 390.0,110.7 389.3,111.0 388.6,111.3 388.0,111.5 387.3,111.8 386.6,112.1 385.9,112.4 385.2,112.7 384.5,113.1 383.8,113.4 383.1,113.7 382.4,114.1 381.7,114.5 381.0,114.8 380.2,115.2 379.5,115.6 378.8,116.0 378.0,116.4 377.3,116.8 376.6,117.3 375.8,117.7 375.0,118.2 374.3,118.6 373.5,119.1 372.8,119.6 372.0,120.0 371.2,120.5 370.4,121.0 369.6,121.5 368.9,122.1 368.1,122.6 367.3,123.1 366.5,123.7 365.7,124.2 364.9,124.8 364.1,125.4 363.2,125.9 362.4,126.5 361.6,127.1 360.8,127.7 360.0,128.4 359.1,129.0 358.3,129.6 357.5,130.2 356.6,130.9 355.8,131.6 355.0,132.2 354.1,132.9 353.3,133.6 352.4,134.3 351.6,135.0 350.7,135.7 349.9,136.4 349.0,137.1 348.1,137.8 347.3,138.6 346.4,139.3 345.5,140.1 344.7,140.8 343.8,141.6 342.9,142.4 342.1,143.1 341.2,143.9 340.3,144.7 339.4,145.5 338.5,146.3 337.7,147.1 336.8,148.0 335.9,148.8 335.0,149.6 334.1,150.5 333.2,151.3 332.3,152.2 331.5,153.1 330.6,153.9 329.7,154.8 328.8,155.7 327.9,156.6 327.0,157.5 326.1,158.4 325.2,159.3 324.3,160.2 323.4,161.1 322.5,162.0 321.6,163.0 320.8,163.9 M345.2,81.2 345.1,81.2 345.0,81.2 344.8,81.3 344.7,81.3 344.6,81.3 344.5,81.4 344.4,81.5 344.2,81.6 344.1,81.6 344.0,81.7 343.8,81.9 343.7,82.0 343.6,82.1 343.4,82.3 343.3,82.5 343.1,82.6 343.0,82.8 342.9,83.0 342.7,83.2 342.6,83.5 342.4,83.7 342.3,83.9 342.1,84.2 342.0,84.5 341.8,84.8 341.6,85.0 341.5,85.4 341.3,85.7 341.2,86.0 341.0,86.3 340.8,86.7 340.7,87.1 340.5,87.4 340.3,87.8 340.2,88.2 340.0,88.6 339.8,89.1 339.6,89.5 339.5,89.9 339.3,90.4 339.1,90.9 338.9,91.3 338.7,91.8 338.5,92.3 338.4,92.8 338.2,93.4 338.0,93.9 337.8,94.4 337.6,95.0 337.4,95.6 337.2,96.1 337.0,96.7 336.8,97.3 336.6,97.9 336.4,98.6 336.2,99.2 336.0,99.8 335.8,100.5 335.6,101.2 335.4,101.8 335.2,102.5 335.0,103.2 334.8,103.9 334.6,104.6 334.4,105.4 334.2,106.1 334.0,106.8 333.7,107.6 333.5,108.4 333.3,109.1 333.1,109.9 332.9,110.7 332.7,111.5 332.4,112.4 332.2,113.2 332.0,114.0 331.8,114.9 331.6,115.7 331.3,116.6 331.1,117.4 330.9,118.3 330.7,119.2 330.4,120.1 330.2,121.0 330.0,121.9 329.8,122.9 329.5,123.8 329.3,124.7 329.1,125.7 328.8,126.7 328.6,127.6 328.4,128.6 328.1,129.6 327.9,130.6 327.7,131.6 327.4,132.6 327.2,133.6 327.0,134.7 326.7,135.7 326.5,136.7 326.3,137.8 326.0,138.8 325.8,139.9 325.6,141.0 325.3,142.1 325.1,143.2 324.8,144.3 324.6,145.4 324.4,146.5 324.1,147.6 323.9,148.7 323.6,149.8 323.4,151.0 323.2,152.1 322.9,153.3 322.7,154.4 322.4,155.6 322.2,156.8 322.0,157.9 321.7,159.1 321.5,160.3 321.2,161.5 321.0,162.7 320.8,163.9 M272.2,86.9 272.4,86.9 272.6,86.8 272.8,86.8 273.1,86.8 273.3,86.8 273.5,86.8 273.8,86.8 274.0,86.8 274.3,86.9 274.5,86.9 274.8,87.0 275.0,87.1 275.3,87.2 275.6,87.3 275.8,87.4 276.1,87.5 276.4,87.6 276.6,87.8 276.9,87.9 277.2,88.1 277.5,88.3 277.8,88.5 278.1,88.7 278.4,88.9 278.7,89.1 279.0,89.3 279.3,89.6 279.6,89.8 279.9,90.1 280.2,90.4 280.6,90.7 280.9,91.0 281.2,91.3 281.5,91.6 281.9,92.0 282.2,92.3 282.5,92.7 282.9,93.0 283.2,93.4 283.6,93.8 283.9,94.2 284.3,94.6 284.6,95.1 285.0,95.5 285.3,96.0 285.7,96.4 286.1,96.9 286.4,97.4 286.8,97.9 287.2,98.4 287.6,98.9 287.9,99.4 288.3,99.9 288.7,100.5 289.1,101.0 289.5,101.6 289.9,102.2 290.3,102.8 290.7,103.4 291.1,104.0 291.5,104.6 291.9,105.2 292.3,105.8 292.7,106.5 293.1,107.1 293.5,107.8 293.9,108.5 294.3,109.2 294.7,109.9 295.2,110.6 295.6,111.3 296.0,112.0 296.4,112.8 296.9,113.5 297.3,114.3 297.7,115.0 298.1,115.8 298.6,116.6 299.0,117.4 299.4,118.2 299.9,119.0 300.3,119.8 300.8,120.7 301.2,121.5 301.7,122.3 302.1,123.2 302.6,124.1 303.0,124.9 303.5,125.8 303.9,126.7 304.4,127.6 304.8,128.5 305.3,129.4 305.7,130.4 306.2,131.3 306.6,132.2 307.1,133.2 307.6,134.1 308.0,135.1 308.5,136.1 309.0,137.1 309.4,138.1 309.9,139.1 310.3,140.1 310.8,141.1 311.3,142.1 311.8,143.1 312.2,144.1 312.7,145.2 313.2,146.2 313.6,147.3 314.1,148.4 314.6,149.4 315.1,150.5 315.5,151.6 316.0,152.7 316.5,153.8 316.9,154.9 317.4,156.0 317.9,157.1 318.4,158.2 318.8,159.3 319.3,160.5 319.8,161.6 320.3,162.8 320.8,163.9 M205.3,128.8 205.6,128.5 206.0,128.1 206.4,127.8 206.8,127.5 207.1,127.2 207.5,126.8 207.9,126.5 208.3,126.2 208.8,125.9 209.2,125.7 209.6,125.4 210.1,125.1 210.5,124.9 211.0,124.6 211.5,124.4 212.0,124.2 212.4,124.0 212.9,123.7 213.4,123.5 214.0,123.3 214.5,123.2 215.0,123.0 215.5,122.8 216.1,122.7 216.6,122.5 217.2,122.4 217.8,122.2 218.3,122.1 218.9,122.0 219.5,121.9 220.1,121.8 220.7,121.7 221.3,121.6 222.0,121.6 222.6,121.5 223.2,121.5 223.9,121.4 224.5,121.4 225.2,121.4 225.9,121.3 226.5,121.3 227.2,121.3 227.9,121.4 228.6,121.4 229.3,121.4 230.0,121.4 230.7,121.5 231.4,121.6 232.2,121.6 232.9,121.7 233.7,121.8 234.4,121.9 235.2,122.0 235.9,122.1 236.7,122.2 237.5,122.3 238.3,122.5 239.0,122.6 239.8,122.8 240.6,122.9 241.4,123.1 242.3,123.3 243.1,123.5 243.9,123.7 244.7,123.9 245.6,124.1 246.4,124.3 247.3,124.5 248.1,124.8 249.0,125.0 249.8,125.3 250.7,125.6 251.6,125.8 252.5,126.1 253.4,126.4 254.2,126.7 255.1,127.0 256.0,127.3 256.9,127.7 257.9,128.0 258.8,128.4 259.7,128.7 260.6,129.1 261.6,129.4 262.5,129.8 263.4,130.2 264.4,130.6 265.3,131.0 266.3,131.4 267.2,131.8 268.2,132.3 269.1,132.7 270.1,133.1 271.1,133.6 272.1,134.0 273.0,134.5 274.0,135.0 275.0,135.5 276.0,136.0 277.0,136.5 278.0,137.0 279.0,137.5 280.0,138.0 281.0,138.5 282.0,139.1 283.0,139.6 284.0,140.2 285.0,140.7 286.1,141.3 287.1,141.9 288.1,142.5 289.1,143.1 290.2,143.6 291.2,144.3 292.2,144.9 293.3,145.5 294.3,146.1 295.4,146.7 296.4,147.4 297.5,148.0 298.5,148.7 299.5,149.3 300.6,150.0 301.6,150.7 302.7,151.4 303.8,152.1 304.8,152.7 305.9,153.4 306.9,154.2 308.0,154.9 309.0,155.6 310.1,156.3 311.2,157.0 312.2,157.8 313.3,158.5 314.4,159.3 315.4,160.0 316.5,160.8 317.6,161.6 318.6,162.3 319.7,163.1 320.8,163.9 M164.5,207.3 164.6,206.6 164.8,206.0 164.9,205.4 165.1,204.8 165.3,204.1 165.5,203.5 165.7,202.9 165.9,202.3 166.2,201.7 166.4,201.1 166.7,200.5 166.9,199.9 167.2,199.3 167.5,198.7 167.8,198.1 168.1,197.5 168.4,196.9 168.8,196.4 169.1,195.8 169.5,195.2 169.9,194.6 170.2,194.1 170.6,193.5 171.0,192.9 171.5,192.4 171.9,191.8 172.3,191.3 172.8,190.7 173.2,190.2 173.7,189.7 174.2,189.1 174.7,188.6 175.2,188.1 175.7,187.5 176.3,187.0 176.8,186.5 177.3,186.0 177.9,185.5 178.5,185.0 179.1,184.5 179.7,184.0 180.3,183.5 180.9,183.0 181.5,182.5 182.1,182.0 182.8,181.6 183.5,181.1 184.1,180.6 184.8,180.2 185.5,179.7 186.2,179.3 186.9,178.8 187.6,178.4 188.4,177.9 189.1,177.5 189.8,177.1 190.6,176.6 191.4,176.2 192.2,175.8 193.0,175.4 193.8,175.0 194.6,174.6 195.4,174.2 196.2,173.8 197.0,173.4 197.9,173.0 198.8,172.7 199.6,172.3 200.5,171.9 201.4,171.6 202.3,171.2 203.2,170.9 204.1,170.5 205.0,170.2 205.9,169.8 206.9,169.5 207.8,169.2 208.8,168.9 209.7,168.6 210.7,168.2 211.7,167.9 212.7,167.6 213.7,167.4 214.7,167.1 215.7,166.8 216.7,166.5 217.8,166.2 218.8,166.0 219.8,165.7 220.9,165.5 222.0,165.2 223.0,165.0 224.1,164.7 225.2,164.5 226.3,164.3 227.4,164.1 228.5,163.8 229.6,163.6 230.7,163.4 231.8,163.2 233.0,163.0 234.1,162.9 235.3,162.7 236.4,162.5 237.6,162.3 238.7,162.2 239.9,162.0 241.1,161.9 242.3,161.7 243.5,161.6 244.6,161.5 245.8,161.3 247.1,161.2 248.3,161.1 249.5,161.0 250.7,160.9 251.9,160.8 253.2,160.7 254.4,160.6 255.7,160.5 256.9,160.4 258.2,160.4 259.4,160.3 260.7,160.3 261.9,160.2 263.2,160.2 264.5,160.1 265.8,160.1 267.1,160.1 268.3,160.1 269.6,160.0 270.9,160.0 272.2,160.0 273.5,160.0 274.9,160.0 276.2,160.1 277.5,160.1 278.8,160.1 280.1,160.1 281.4,160.2 282.8,160.2 284.1,160.3 285.4,160.3 286.8,160.4 288.1,160.5 289.5,160.5 290.8,160.6 292.1,160.7 293.5,160.8 294.8,160.9 296.2,161.0 297.5,161.1 298.9,161.2 300.3,161.4 301.6,161.5 303.0,161.6 304.3,161.8 305.7,161.9 307.1,162.1 308.4,162.2 309.8,162.4 311.2,162.6 312.5,162.7 313.9,162.9 315.3,163.1 316.6,163.3 318.0,163.5 319.4,163.7 320.8,163.9 M173.2,299.1 173.0,298.6 172.8,298.0 172.6,297.4 172.4,296.8 172.2,296.2 172.1,295.6 171.9,295.0 171.8,294.4 171.7,293.8 171.5,293.2 171.4,292.6 171.3,292.0 171.2,291.4 171.2,290.7 171.1,290.1 171.1,289.5 171.0,288.8 171.0,288.2 171.0,287.5 171.0,286.9 171.0,286.2 171.0,285.6 171.0,284.9 171.1,284.2 171.1,283.6 171.2,282.9 171.2,282.2 171.3,281.5 171.4,280.9 171.5,280.2 171.7,279.5 171.8,278.8 171.9,278.1 172.1,277.4 172.2,276.7 172.4,276.0 172.6,275.3 172.8,274.6 173.0,273.9 173.2,273.2 173.5,272.4 173.7,271.7 174.0,271.0 174.2,270.3 174.5,269.5 174.8,268.8 175.1,268.1 175.4,267.4 175.7,266.6 176.1,265.9 176.4,265.1 176.8,264.4 177.1,263.7 177.5,262.9 177.9,262.2 178.3,261.4 178.7,260.7 179.1,259.9 179.6,259.1 180.0,258.4 180.4,257.6 180.9,256.9 181.4,256.1 181.9,255.3 182.4,254.6 182.9,253.8 183.4,253.1 183.9,252.3 184.4,251.5 185.0,250.8 185.6,250.0 186.1,249.2 186.7,248.4 187.3,247.7 187.9,246.9 188.5,246.1 189.1,245.3 189.7,244.6 190.4,243.8 191.0,243.0 191.7,242.2 192.4,241.5 193.0,240.7 193.7,239.9 194.4,239.1 195.1,238.4 195.8,237.6 196.6,236.8 197.3,236.0 198.1,235.3 198.8,234.5 199.6,233.7 200.3,232.9 201.1,232.2 201.9,231.4 202.7,230.6 203.5,229.8 204.3,229.1 205.2,228.3 206.0,227.5 206.9,226.8 207.7,226.0 208.6,225.2 209.4,224.4 210.3,223.7 211.2,222.9 212.1,222.2 213.0,221.4 213.9,220.6 214.8,219.9 215.8,219.1 216.7,218.4 217.6,217.6 218.6,216.8 219.6,216.1 220.5,215.3 221.5,214.6 222.5,213.9 223.5,213.1 224.5,212.4 225.5,211.6 226.5,210.9 227.5,210.2 228.5,209.4 229.6,208.7 230.6,208.0 231.7,207.2 232.7,206.5 233.8,205.8 234.8,205.1 235.9,204.3 237.0,203.6 238.1,202.9 239.2,202.2 240.3,201.5 241.4,200.8 242.5,200.1 243.6,199.4 244.7,198.7 245.9,198.0 247.0,197.3 248.1,196.6 249.3,196.0 250.4,195.3 251.6,194.6 252.7,193.9 253.9,193.3 255.1,192.6 256.3,191.9 257.4,191.3 258.6,190.6 259.8,190.0 261.0,189.3 262.2,188.7 263.4,188.0 264.6,187.4 265.9,186.8 267.1,186.1 268.3,185.5 269.5,184.9 270.8,184.3 272.0,183.7 273.2,183.1 274.5,182.5 275.7,181.9 277.0,181.3 278.2,180.7 279.5,180.1 280.7,179.5 282.0,178.9 283.2,178.4 284.5,177.8 285.8,177.2 287.1,176.7 288.3,176.1 289.6,175.6 290.9,175.0 292.2,174.5 293.5,173.9 294.7,173.4 296.0,172.9 297.3,172.4 298.6,171.9 299.9,171.3 301.2,170.8 302.5,170.3 303.8,169.8 305.1,169.4 306.4,168.9 307.7,168.4 309.0,167.9 310.3,167.5 311.6,167.0 312.9,166.5 314.2,166.1 315.5,165.6 316.8,165.2 318.1,164.8 319.4,164.3 320.8,163.9 M225.8,366.7 225.4,366.5 225.1,366.2 224.8,365.9 224.5,365.7 224.2,365.4 223.9,365.1 223.6,364.7 223.3,364.4 223.0,364.1 222.8,363.7 222.5,363.4 222.3,363.0 222.0,362.6 221.8,362.3 221.6,361.9 221.3,361.5 221.1,361.1 220.9,360.6 220.7,360.2 220.5,359.8 220.3,359.3 220.2,358.9 220.0,358.4 219.8,357.9 219.7,357.4 219.6,356.9 219.4,356.4 219.3,355.9 219.2,355.4 219.1,354.9 218.9,354.3 218.9,353.8 218.8,353.2 218.7,352.7 218.6,352.1 218.5,351.5 218.5,350.9 218.4,350.3 218.4,349.7 218.4,349.1 218.3,348.5 218.3,347.9 218.3,347.2 218.3,346.6 218.3,345.9 218.3,345.2 218.3,344.6 218.4,343.9 218.4,343.2 218.4,342.5 218.5,341.8 218.5,341.1 218.6,340.4 218.7,339.6 218.8,338.9 218.9,338.2 218.9,337.4 219.1,336.6 219.2,335.9 219.3,335.1 219.4,334.3 219.6,333.5 219.7,332.7 219.8,331.9 220.0,331.1 220.2,330.3 220.3,329.5 220.5,328.6 220.7,327.8 220.9,327.0 221.1,326.1 221.3,325.3 221.6,324.4 221.8,323.5 222.0,322.6 222.3,321.8 222.5,320.9 222.8,320.0 223.0,319.1 223.3,318.2 223.6,317.2 223.9,316.3 224.2,315.4 224.5,314.5 224.8,313.5 225.1,312.6 225.4,311.6 225.8,310.7 226.1,309.7 226.4,308.8 226.8,307.8 227.1,306.8 227.5,305.8 227.9,304.8 228.3,303.8 228.7,302.8 229.1,301.8 229.5,300.8 229.9,299.8 230.3,298.8 230.7,297.8 231.1,296.8 231.6,295.7 232.0,294.7 232.5,293.7 232.9,292.6 233.4,291.6 233.9,290.5 234.3,289.5 234.8,288.4 235.3,287.4 235.8,286.3 236.3,285.2 236.8,284.1 237.3,283.1 237.9,282.0 238.4,280.9 238.9,279.8 239.5,278.7 240.0,277.6 240.6,276.5 241.1,275.4 241.7,274.3 242.3,273.2 242.8,272.1 243.4,271.0 244.0,269.9 244.6,268.8 245.2,267.7 245.8,266.6 246.4,265.4 247.0,264.3 247.7,263.2 248.3,262.1 248.9,260.9 249.6,259.8 250.2,258.7 250.9,257.5 251.5,256.4 252.2,255.3 252.9,254.1 253.5,253.0 254.2,251.9 254.9,250.7 255.6,249.6 256.3,248.4 257.0,247.3 257.7,246.2 258.4,245.0 259.1,243.9 259.8,242.7 260.5,241.6 261.3,240.4 262.0,239.3 262.7,238.1 263.5,237.0 264.2,235.9 264.9,234.7 265.7,233.6 266.5,232.4 267.2,231.3 268.0,230.1 268.7,229.0 269.5,227.8 270.3,226.7 271.1,225.6 271.9,224.4 272.6,223.3 273.4,222.2 274.2,221.0 275.0,219.9 275.8,218.8 276.6,217.6 277.4,216.5 278.3,215.4 279.1,214.2 279.9,213.1 280.7,212.0 281.5,210.9 282.4,209.8 283.2,208.6 284.0,207.5 284.9,206.4 285.7,205.3 286.5,204.2 287.4,203.1 288.2,202.0 289.1,200.9 289.9,199.8 290.8,198.7 291.6,197.6 292.5,196.5 293.4,195.5 294.2,194.4 295.1,193.3 296.0,192.2 296.8,191.2 297.7,190.1 298.6,189.0 299.4,188.0 300.3,186.9 301.2,185.9 302.1,184.8 303.0,183.8 303.8,182.7 304.7,181.7 305.6,180.7 306.5,179.6 307.4,178.6 308.3,177.6 309.2,176.6 310.0,175.6 310.9,174.6 311.8,173.6 312.7,172.6 313.6,171.6 314.5,170.6 315.4,169.7 316.3,168.7 317.2,167.7 318.1,166.8 319.0,165.8 319.9,164.9 320.8,163.9 M293.1,377.4 294.4,377.6 295.8,377.8 297.2,377.9 298.6,378.1 299.9,378.3 301.3,378.4 302.7,378.6 304.1,378.7 305.5,378.8 306.9,379.0 308.2,379.1 309.6,379.1 311.0,379.2 312.4,379.3 313.8,379.4 315.2,379.4 316.6,379.4 318.0,379.5 319.4,379.5 320.8,379.5 322.1,379.5 323.5,379.5 324.9,379.4 326.3,379.4 327.7,379.4 329.1,379.3 330.5,379.2 331.9,379.1 333.3,379.1 334.6,379.0 336.0,378.8 337.4,378.7 338.8,378.6 340.2,378.4 341.6,378.3 342.9,378.1 344.3,377.9 345.7,377.8 347.1,377.6 348.4,377.4 349.8,377.1 351.2,376.9 352.5,376.7 353.9,376.4 355.3,376.2 356.6,375.9 358.0,375.6 359.3,375.3 360.7,375.0 362.0,374.7 363.3,374.4 364.7,374.0 366.0,373.7 367.4,373.3 368.7,373.0 370.0,372.6 371.3,372.2 372.6,371.8 374.0,371.4 375.3,371.0 376.6,370.6 377.9,370.1 379.2,369.7 380.5,369.2 381.7,368.8 383.0,368.3 384.3,367.8 385.6,367.3 386.9,366.8 388.1,366.3 389.4,365.8 390.6,365.2 391.9,364.7 393.1,364.2 394.4,363.6 395.6,363.0 396.8,362.4 398.0,361.8 399.2,361.2 400.4,360.6 401.7,360.0 402.8,359.4 404.0,358.8 405.2,358.1 406.4,357.5 407.6,356.8 408.7,356.1 409.9,355.4 411.0,354.7 412.2,354.0 413.3,353.3 414.4,352.6 415.6,351.9 416.7,351.2 417.8,350.4 418.9,349.7 420.0,348.9 421.1,348.1 422.1,347.3 423.2,346.6 424.3,345.8 425.3,345.0 426.4,344.2 427.4,343.3 428.4,342.5 429.5,341.7 430.5,340.8 431.5,340.0 432.5,339.1 433.5,338.3 434.4,337.4 435.4,336.5 436.4,335.6 437.3,334.7 438.3,333.8 439.2,332.9 440.1,332.0 441.1,331.1 442.0,330.2 442.9,329.2 443.7,328.3 444.6,327.3 445.5,326.4 446.4,325.4 447.2,324.4 448.1,323.5 448.9,322.5 449.7,321.5 450.5,320.5 451.3,319.5 452.1,318.5 452.9,317.5 453.7,316.4 454.4,315.4 455.2,314.4 455.9,313.3 456.7,312.3 457.4,311.2 458.1,310.2 458.8,309.1 459.5,308.1 460.2,307.0 460.8,305.9 461.5,304.8 462.1,303.7 462.8,302.6 463.4,301.5 464.0,300.4 464.6,299.3 465.2,298.2 465.8,297.1 466.4,296.0 466.9,294.9 467.5,293.7 468.0,292.6 468.5,291.5 469.1,290.3 469.6,289.2 470.1,288.0 470.5,286.9 471.0,285.7 471.5,284.6 471.9,283.4 472.3,282.2 472.8,281.1 473.2,279.9 473.6,278.7 474.0,277.5 474.4,276.4 474.7,275.2 475.1,274.0 475.4,272.8 475.7,271.6 476.1,270.4 476.4,269.2 476.7,268.0 476.9,266.8 477.2,265.6 477.5,264.4 477.7,263.2 478.0,262.0 478.2,260.8 478.4,259.6 478.6,258.3 478.8,257.1 479.0,255.9 479.1,254.7 479.3,253.5 479.4,252.2 479.5,251.0 479.7,249.8 479.8,248.6 479.9,247.3 479.9,246.1 480.0,244.9 480.1,243.7 480.1,242.4 480.1,241.2 480.1,240.0 480.1,238.8 M161.4,240.0 161.4,241.2 161.4,242.4 161.4,243.7 161.5,244.9 161.6,246.1 161.6,247.3 161.7,248.6 161.8,249.8 162.0,251.0 162.1,252.2 162.2,253.5 162.4,254.7 162.5,255.9 162.7,257.1 162.9,258.3 163.1,259.6 163.3,260.8 163.5,262.0 163.8,263.2 164.0,264.4 164.3,265.6 164.6,266.8 164.8,268.0 165.1,269.2 165.4,270.4 165.8,271.6 166.1,272.8 166.4,274.0 166.8,275.2 167.1,276.4 167.5,277.5 167.9,278.7 168.3,279.9 168.7,281.1 169.2,282.2 169.6,283.4 170.0,284.6 170.5,285.7 171.0,286.9 171.4,288.0 171.9,289.2 172.4,290.3 173.0,291.5 173.5,292.6 174.0,293.7 174.6,294.9 175.1,296.0 175.7,297.1 176.3,298.2 176.9,299.3 177.5,300.4 178.1,301.5 178.7,302.6 179.4,303.7 180.0,304.8 180.7,305.9 181.3,307.0 182.0,308.1 182.7,309.1 183.4,310.2 184.1,311.2 184.8,312.3 185.6,313.3 186.3,314.4 187.1,315.4 187.8,316.4 188.6,317.5 189.4,318.5 190.2,319.5 191.0,320.5 191.8,321.5 192.6,322.5 193.4,323.5 194.3,324.4 195.1,325.4 196.0,326.4 196.9,327.3 197.8,328.3 198.6,329.2 199.5,330.2 200.4,331.1 201.4,332.0 202.3,332.9 203.2,333.8 204.2,334.7 205.1,335.6 206.1,336.5 207.1,337.4 208.0,338.3 209.0,339.1 210.0,340.0 211.0,340.8 212.0,341.7 213.1,342.5 214.1,343.3 215.1,344.2 216.2,345.0 217.2,345.8 218.3,346.6 219.4,347.3 220.4,348.1 221.5,348.9 222.6,349.7 223.7,350.4 224.8,351.2 225.9,351.9 227.1,352.6 228.2,353.3 229.3,354.0 230.5,354.7 231.6,355.4 232.8,356.1 233.9,356.8 235.1,357.5 236.3,358.1 237.5,358.8 238.7,359.4 239.8,360.0 241.0,360.6 242.3,361.2 243.5,361.8 244.7,362.4 245.9,363.0 247.1,363.6 248.4,364.2 249.6,364.7 250.9,365.2 252.1,365.8 253.4,366.3 254.6,366.8 255.9,367.3 257.2,367.8 258.5,368.3 259.8,368.8 261.0,369.2 262.3,369.7 263.6,370.1 264.9,370.6 266.2,371.0 267.5,371.4 268.9,371.8 270.2,372.2 271.5,372.6 272.8,373.0 274.1,373.3 275.5,373.7 276.8,374.0 278.2,374.4 279.5,374.7 280.8,375.0 282.2,375.3 283.5,375.6 284.9,375.9 286.2,376.2 287.6,376.4 289.0,376.7 290.3,376.9 291.7,377.1 293.1,377.4 M296.8,321.4 298.0,321.5 299.2,321.7 300.3,321.9 301.5,322.0 302.7,322.2 303.9,322.3 305.1,322.4 306.3,322.6 307.5,322.7 308.7,322.8 309.9,322.8 311.1,322.9 312.3,323.0 313.5,323.1 314.7,323.1 315.9,323.1 317.1,323.2 318.3,323.2 319.5,323.2 320.8,323.2 322.0,323.2 323.2,323.2 324.4,323.2 325.6,323.1 326.8,323.1 328.0,323.1 329.2,323.0 330.4,322.9 331.6,322.8 332.8,322.8 334.0,322.7 335.2,322.6 336.4,322.4 337.6,322.3 338.8,322.2 340.0,322.0 341.2,321.9 342.3,321.7 343.5,321.5 344.7,321.4 345.9,321.2 347.1,321.0 348.3,320.8 349.5,320.6 350.6,320.3 351.8,320.1 353.0,319.9 354.1,319.6 355.3,319.3 356.5,319.1 357.6,318.8 358.8,318.5 360.0,318.2 361.1,317.9 362.3,317.6 363.4,317.3 364.6,316.9 365.7,316.6 366.8,316.2 368.0,315.9 369.1,315.5 370.2,315.1 371.3,314.7 372.5,314.3 373.6,313.9 374.7,313.5 375.8,313.1 376.9,312.7 378.0,312.2 379.1,311.8 380.2,311.3 381.3,310.9 382.3,310.4 383.4,309.9 384.5,309.4 385.6,309.0 386.6,308.4 387.7,307.9 388.7,307.4 389.8,306.9 390.8,306.4 391.8,305.8 392.9,305.3 393.9,304.7 394.9,304.1 395.9,303.6 396.9,303.0 397.9,302.4 398.9,301.8 399.9,301.2 400.9,300.6 401.9,299.9 402.9,299.3 403.8,298.7 404.8,298.0 405.7,297.4 406.7,296.7 407.6,296.1 408.6,295.4 409.5,294.7 410.4,294.0 411.3,293.3 412.2,292.6 413.1,291.9 414.0,291.2 414.9,290.5 415.8,289.7 416.6,289.0 417.5,288.3 418.4,287.5 419.2,286.8 420.1,286.0 420.9,285.2 421.7,284.5 422.5,283.7 423.3,282.9 424.1,282.1 424.9,281.3 425.7,280.5 426.5,279.7 427.3,278.9 428.0,278.0 428.8,277.2 429.5,276.4 430.3,275.5 431.0,274.7 431.7,273.8 432.4,273.0 433.1,272.1 433.8,271.2 434.5,270.4 435.2,269.5 435.9,268.6 436.5,267.7 437.2,266.8 437.8,265.9 438.5,265.0 439.1,264.1 439.7,263.2 440.3,262.3 440.9,261.4 441.5,260.4 442.1,259.5 442.6,258.6 443.2,257.6 443.7,256.7 444.3,255.7 444.8,254.8 445.3,253.8 445.9,252.8 446.4,251.9 446.9,250.9 447.3,249.9 447.8,249.0 448.3,248.0 448.7,247.0 449.2,246.0 449.6,245.0 450.1,244.0 450.5,243.0 450.9,242.0 451.3,241.0 451.7,240.0 452.0,239.0 452.4,238.0 452.8,237.0 453.1,236.0 453.4,234.9 453.8,233.9 454.1,232.9 454.4,231.9 454.7,230.8 455.0,229.8 455.3,228.8 455.5,227.7 455.8,226.7 456.0,225.6 456.3,224.6 456.5,223.5 456.7,222.5 456.9,221.5 457.1,220.4 457.3,219.3 457.5,218.3 457.6,217.2 457.8,216.2 457.9,215.1 458.0,214.1 458.2,213.0 458.3,212.0 458.4,210.9 458.5,209.8 458.5,208.8 458.6,207.7 458.7,206.6 458.7,205.6 458.7,204.5 458.8,203.5 458.8,202.4 458.8,201.3 458.8,200.3 458.8,199.2 458.7,198.1 458.7,197.1 458.7,196.0 458.6,195.0 458.5,193.9 458.5,192.8 458.4,191.8 458.3,190.7 458.2,189.7 458.0,188.6 457.9,187.5 457.8,186.5 457.6,185.4 457.5,184.4 457.3,183.3 457.1,182.3 456.9,181.2 456.7,180.2 456.5,179.1 456.3,178.1 456.0,177.0 455.8,176.0 455.5,175.0 455.3,173.9 455.0,172.9 454.7,171.8 454.4,170.8 454.1,169.8 453.8,168.8 453.4,167.7 453.1,166.7 452.8,165.7 452.4,164.7 452.0,163.7 451.7,162.7 451.3,161.7 450.9,160.6 450.5,159.6 450.1,158.6 449.6,157.7 449.2,156.7 448.7,155.7 448.3,154.7 447.8,153.7 447.3,152.7 446.9,151.8 446.4,150.8 445.9,149.8 445.3,148.9 444.8,147.9 444.3,146.9 443.7,146.0 443.2,145.1 442.6,144.1 442.1,143.2 441.5,142.2 440.9,141.3 440.3,140.4 439.7,139.5 439.1,138.6 438.5,137.6 437.8,136.7 437.2,135.8 436.5,134.9 435.9,134.1 435.2,133.2 434.5,132.3 433.8,131.4 433.1,130.6 432.4,129.7 431.7,128.8 431.0,128.0 430.3,127.1 429.5,126.3 428.8,125.5 428.0,124.6 427.3,123.8 426.5,123.0 425.7,122.2 424.9,121.4 424.1,120.6 423.3,119.8 422.5,119.0 421.7,118.2 420.9,117.4 420.1,116.7 419.2,115.9 418.4,115.1 417.5,114.4 416.6,113.7 415.8,112.9 414.9,112.2 414.0,111.5 413.1,110.8 412.2,110.0 411.3,109.3 410.4,108.7 409.5,108.0 408.6,107.3 407.6,106.6 406.7,105.9 405.7,105.3 404.8,104.6 403.8,104.0 402.9,103.4 401.9,102.7 400.9,102.1 399.9,101.5 398.9,100.9 397.9,100.3 396.9,99.7 395.9,99.1 394.9,98.5 393.9,98.0 392.9,97.4 391.8,96.9 390.8,96.3 389.8,95.8 388.7,95.2 387.7,94.7 386.6,94.2 385.6,93.7 384.5,93.2 383.4,92.7 382.3,92.3 381.3,91.8 380.2,91.3 379.1,90.9 378.0,90.4 376.9,90.0 375.8,89.6 374.7,89.1 373.6,88.7 372.5,88.3 371.3,87.9 370.2,87.5 369.1,87.2 368.0,86.8 366.8,86.4 365.7,86.1 364.6,85.7 363.4,85.4 362.3,85.1 361.1,84.8 360.0,84.5 358.8,84.2 357.6,83.9 356.5,83.6 355.3,83.3 354.1,83.1 353.0,82.8 351.8,82.6 350.6,82.3 349.5,82.1 348.3,81.9 347.1,81.7 345.9,81.5 344.7,81.3 343.5,81.1 342.3,80.9 341.2,80.8 340.0,80.6 338.8,80.5 337.6,80.4 336.4,80.2 335.2,80.1 334.0,80.0 332.8,79.9 331.6,79.8 330.4,79.7 329.2,79.7 328.0,79.6 326.8,79.6 325.6,79.5 324.4,79.5 323.2,79.5 322.0,79.5 320.8,79.4 319.5,79.5 318.3,79.5 317.1,79.5 315.9,79.5 314.7,79.6 313.5,79.6 312.3,79.7 311.1,79.7 309.9,79.8 308.7,79.9 307.5,80.0 306.3,80.1 305.1,80.2 303.9,80.4 302.7,80.5 301.5,80.6 300.3,80.8 299.2,80.9 298.0,81.1 296.8,81.3 295.6,81.5 294.4,81.7 293.2,81.9 292.0,82.1 290.9,82.3 289.7,82.6 288.5,82.8 287.4,83.1 286.2,83.3 285.0,83.6 283.9,83.9 282.7,84.2 281.5,84.5 280.4,84.8 279.2,85.1 278.1,85.4 276.9,85.7 275.8,86.1 274.7,86.4 273.5,86.8 272.4,87.2 271.3,87.5 270.2,87.9 269.0,88.3 267.9,88.7 266.8,89.1 265.7,89.6 264.6,90.0 263.5,90.4 262.4,90.9 261.3,91.3 260.2,91.8 259.2,92.3 258.1,92.7 257.0,93.2 255.9,93.7 254.9,94.2 253.8,94.7 252.8,95.2 251.7,95.8 250.7,96.3 249.7,96.9 248.6,97.4 247.6,98.0 246.6,98.5 245.6,99.1 244.6,99.7 243.6,100.3 242.6,100.9 241.6,101.5 240.6,102.1 239.6,102.7 238.6,103.4 237.7,104.0 236.7,104.6 235.8,105.3 234.8,105.9 233.9,106.6 232.9,107.3 232.0,108.0 231.1,108.7 230.2,109.3 229.3,110.0 228.4,110.8 227.5,111.5 226.6,112.2 225.7,112.9 224.9,113.7 224.0,114.4 223.1,115.1 222.3,115.9 221.4,116.7 220.6,117.4 219.8,118.2 219.0,119.0 218.2,119.8 217.4,120.6 216.6,121.4 215.8,122.2 215.0,123.0 214.2,123.8 213.5,124.6 212.7,125.5 212.0,126.3 211.2,127.1 210.5,128.0 209.8,128.8 209.1,129.7 208.4,130.6 207.7,131.4 207.0,132.3 206.3,133.2 205.6,134.1 205.0,134.9 204.3,135.8 203.7,136.7 203.0,137.6 202.4,138.6 201.8,139.5 201.2,140.4 200.6,141.3 200.0,142.2 199.4,143.2 198.9,144.1 198.3,145.1 197.8,146.0 197.2,146.9 196.7,147.9 196.2,148.9 195.6,149.8 195.1,150.8 194.6,151.8 194.2,152.7 193.7,153.7 193.2,154.7 192.8,155.7 192.3,156.7 191.9,157.7 191.4,158.6 191.0,159.6 190.6,160.6 190.2,161.7 189.8,162.7 189.5,163.7 189.1,164.7 188.7,165.7 188.4,166.7 188.1,167.7 187.7,168.8 187.4,169.8 187.1,170.8 186.8,171.8 186.5,172.9 186.2,173.9 186.0,175.0 185.7,176.0 185.5,177.0 185.2,178.1 185.0,179.1 184.8,180.2 184.6,181.2 184.4,182.3 184.2,183.3 184.0,184.4 183.9,185.4 183.7,186.5 183.6,187.5 183.5,188.6 183.3,189.7 183.2,190.7 183.1,191.8 183.0,192.8 183.0,193.9 182.9,195.0 182.8,196.0 182.8,197.1 182.8,198.1 182.7,199.2 182.7,200.3 182.7,201.3 182.7,202.4 182.7,203.5 182.8,204.5 182.8,205.6 182.8,206.6 182.9,207.7 183.0,208.8 183.0,209.8 183.1,210.9 183.2,212.0 183.3,213.0 183.5,214.1 183.6,215.1 183.7,216.2 183.9,217.2 184.0,218.3 184.2,219.3 184.4,220.4 184.6,221.5 184.8,222.5 185.0,223.5 185.2,224.6 185.5,225.6 185.7,226.7 186.0,227.7 186.2,228.8 186.5,229.8 186.8,230.8 187.1,231.9 187.4,232.9 187.7,233.9 188.1,234.9 188.4,236.0 188.7,237.0 189.1,238.0 189.5,239.0 189.8,240.0 190.2,241.0 190.6,242.0 191.0,243.0 191.4,244.0 191.9,245.0 192.3,246.0 192.8,247.0 193.2,248.0 193.7,249.0 194.2,249.9 194.6,250.9 195.1,251.9 195.6,252.8 196.2,253.8 196.7,254.8 197.2,255.7 197.8,256.7 198.3,257.6 198.9,258.6 199.4,259.5 200.0,260.4 200.6,261.4 201.2,262.3 201.8,263.2 202.4,264.1 203.0,265.0 203.7,265.9 204.3,266.8 205.0,267.7 205.6,268.6 206.3,269.5 207.0,270.4 207.7,271.2 208.4,272.1 209.1,273.0 209.8,273.8 210.5,274.7 211.2,275.5 212.0,276.4 212.7,277.2 213.5,278.0 214.2,278.9 215.0,279.7 215.8,280.5 216.6,281.3 217.4,282.1 218.2,282.9 219.0,283.7 219.8,284.5 220.6,285.2 221.4,286.0 222.3,286.8 223.1,287.5 224.0,288.3 224.9,289.0 225.7,289.7 226.6,290.5 227.5,291.2 228.4,291.9 229.3,292.6 230.2,293.3 231.1,294.0 232.0,294.7 232.9,295.4 233.9,296.1 234.8,296.7 235.8,297.4 236.7,298.0 237.7,298.7 238.6,299.3 239.6,299.9 240.6,300.6 241.6,301.2 242.6,301.8 243.6,302.4 244.6,303.0 245.6,303.6 246.6,304.1 247.6,304.7 248.6,305.3 249.7,305.8 250.7,306.4 251.7,306.9 252.8,307.4 253.8,307.9 254.9,308.4 255.9,309.0 257.0,309.4 258.1,309.9 259.2,310.4 260.2,310.9 261.3,311.3 262.4,311.8 263.5,312.2 264.6,312.7 265.7,313.1 266.8,313.5 267.9,313.9 269.0,314.3 270.2,314.7 271.3,315.1 272.4,315.5 273.5,315.9 274.7,316.2 275.8,316.6 276.9,316.9 278.1,317.3 279.2,317.6 280.4,317.9 281.5,318.2 282.7,318.5 283.9,318.8 285.0,319.1 286.2,319.3 287.4,319.6 288.5,319.9 289.7,320.1 290.9,320.3 292.0,320.6 293.2,320.8 294.4,321.0 295.6,321.2 296.8,321.4 M306.9,243.2 307.6,243.3 308.3,243.4 309.0,243.5 309.7,243.6 310.3,243.7 311.0,243.8 311.7,243.9 312.4,243.9 313.1,244.0 313.8,244.0 314.5,244.1 315.2,244.1 315.9,244.2 316.6,244.2 317.3,244.2 318.0,244.3 318.7,244.3 319.4,244.3 320.1,244.3 320.8,244.3 321.4,244.3 322.1,244.3 322.8,244.3 323.5,244.3 324.2,244.2 324.9,244.2 325.6,244.2 326.3,244.1 327.0,244.1 327.7,244.0 328.4,244.0 329.1,243.9 329.8,243.9 330.5,243.8 331.2,243.7 331.8,243.6 332.5,243.5 333.2,243.4 333.9,243.3 334.6,243.2 335.3,243.1 336.0,243.0 336.6,242.9 337.3,242.8 338.0,242.6 338.7,242.5 339.4,242.4 340.0,242.2 340.7,242.1 341.4,241.9 342.0,241.8 342.7,241.6 343.4,241.4 344.1,241.2 344.7,241.1 345.4,240.9 346.0,240.7 346.7,240.5 347.4,240.3 348.0,240.1 348.7,239.9 349.3,239.6 350.0,239.4 350.6,239.2 351.2,239.0 351.9,238.7 352.5,238.5 353.2,238.2 353.8,238.0 354.4,237.7 355.1,237.5 355.7,237.2 356.3,236.9 356.9,236.6 357.6,236.4 358.2,236.1 358.8,235.8 359.4,235.5 360.0,235.2 360.6,234.9 361.2,234.6 361.8,234.3 362.4,233.9 363.0,233.6 363.6,233.3 364.2,233.0 364.7,232.6 365.3,232.3 365.9,231.9 366.5,231.6 367.0,231.2 367.6,230.9 368.2,230.5 368.7,230.1 369.3,229.8 369.8,229.4 370.4,229.0 370.9,228.6 371.4,228.2 372.0,227.8 372.5,227.5 373.0,227.1 373.6,226.6 374.1,226.2 374.6,225.8 375.1,225.4 375.6,225.0 376.1,224.6 376.6,224.1 377.1,223.7 377.6,223.3 378.1,222.8 378.6,222.4 379.0,221.9 379.5,221.5 380.0,221.0 380.4,220.6 380.9,220.1 381.4,219.6 381.8,219.2 382.2,218.7 382.7,218.2 383.1,217.7 383.6,217.3 384.0,216.8 384.4,216.3 384.8,215.8 385.2,215.3 385.6,214.8 386.0,214.3 386.4,213.8 386.8,213.3 387.2,212.8 387.6,212.3 388.0,211.8 388.3,211.2 388.7,210.7 389.1,210.2 389.4,209.7 389.8,209.1 390.1,208.6 390.5,208.1 390.8,207.5 391.1,207.0 391.4,206.4 391.8,205.9 392.1,205.3 392.4,204.8 392.7,204.2 393.0,203.7 393.3,203.1 393.6,202.6 393.8,202.0 394.1,201.4 394.4,200.9 394.6,200.3 394.9,199.7 395.2,199.2 395.4,198.6 395.6,198.0 395.9,197.4 396.1,196.9 396.3,196.3 396.5,195.7 396.8,195.1 397.0,194.5 397.2,193.9 397.4,193.3 397.6,192.7 397.7,192.2 397.9,191.6 398.1,191.0 398.2,190.4 398.4,189.8 398.6,189.2 398.7,188.6 398.8,188.0 399.0,187.4 399.1,186.8 399.2,186.2 399.4,185.6 399.5,185.0 399.6,184.3 399.7,183.7 399.8,183.1 399.9,182.5 399.9,181.9 400.0,181.3 400.1,180.7 400.1,180.1 400.2,179.5 400.3,178.9 400.3,178.2 400.3,177.6 400.4,177.0 400.4,176.4 400.4,175.8 400.4,175.2 400.4,174.6 400.5,173.9 400.4,173.3 400.4,172.7 400.4,172.1 400.4,171.5 400.4,170.9 400.3,170.3 400.3,169.6 400.3,169.0 400.2,168.4 400.1,167.8 400.1,167.2 400.0,166.6 399.9,166.0 399.9,165.4 399.8,164.8 399.7,164.1 399.6,163.5 399.5,162.9 399.4,162.3 399.2,161.7 399.1,161.1 399.0,160.5 398.8,159.9 398.7,159.3 398.6,158.7 398.4,158.1 398.2,157.5 398.1,156.9 397.9,156.3 397.7,155.7 397.6,155.1 397.4,154.5 397.2,154.0 397.0,153.4 396.8,152.8 396.5,152.2 396.3,151.6 396.1,151.0 395.9,150.5 395.6,149.9 395.4,149.3 395.2,148.7 394.9,148.2 394.6,147.6 394.4,147.0 394.1,146.4 393.8,145.9 393.6,145.3 393.3,144.8 393.0,144.2 392.7,143.6 392.4,143.1 392.1,142.5 391.8,142.0 391.4,141.4 391.1,140.9 390.8,140.4 390.5,139.8 390.1,139.3 389.8,138.8 389.4,138.2 389.1,137.7 388.7,137.2 388.3,136.7 388.0,136.1 387.6,135.6 387.2,135.1 386.8,134.6 386.4,134.1 386.0,133.6 385.6,133.1 385.2,132.6 384.8,132.1 384.4,131.6 384.0,131.1 383.6,130.6 383.1,130.1 382.7,129.7 382.2,129.2 381.8,128.7 381.4,128.2 380.9,127.8 380.4,127.3 380.0,126.9 379.5,126.4 379.0,125.9 378.6,125.5 378.1,125.1 377.6,124.6 377.1,124.2 376.6,123.7 376.1,123.3 375.6,122.9 375.1,122.5 374.6,122.1 374.1,121.6 373.6,121.2 373.0,120.8 372.5,120.4 372.0,120.0 371.4,119.6 370.9,119.3 370.4,118.9 369.8,118.5 369.3,118.1 368.7,117.7 368.2,117.4 367.6,117.0 367.0,116.7 366.5,116.3 365.9,115.9 365.3,115.6 364.7,115.3 364.2,114.9 363.6,114.6 363.0,114.3 362.4,113.9 361.8,113.6 361.2,113.3 360.6,113.0 360.0,112.7 359.4,112.4 358.8,112.1 358.2,111.8 357.6,111.5 356.9,111.2 356.3,111.0 355.7,110.7 355.1,110.4 354.4,110.2 353.8,109.9 353.2,109.7 352.5,109.4 351.9,109.2 351.2,108.9 350.6,108.7 350.0,108.5 349.3,108.2 348.7,108.0 348.0,107.8 347.4,107.6 346.7,107.4 346.0,107.2 345.4,107.0 344.7,106.8 344.1,106.6 343.4,106.5 342.7,106.3 342.0,106.1 341.4,106.0 340.7,105.8 340.0,105.7 339.4,105.5 338.7,105.4 338.0,105.2 337.3,105.1 336.6,105.0 336.0,104.9 335.3,104.7 334.6,104.6 333.9,104.5 333.2,104.4 332.5,104.3 331.8,104.3 331.2,104.2 330.5,104.1 329.8,104.0 329.1,104.0 328.4,103.9 327.7,103.8 327.0,103.8 326.3,103.7 325.6,103.7 324.9,103.7 324.2,103.6 323.5,103.6 322.8,103.6 322.1,103.6 321.4,103.6 320.8,103.6 320.1,103.6 319.4,103.6 318.7,103.6 318.0,103.6 317.3,103.6 316.6,103.7 315.9,103.7 315.2,103.7 314.5,103.8 313.8,103.8 313.1,103.9 312.4,104.0 311.7,104.0 311.0,104.1 310.3,104.2 309.7,104.3 309.0,104.3 308.3,104.4 307.6,104.5 306.9,104.6 306.2,104.7 305.5,104.9 304.9,105.0 304.2,105.1 303.5,105.2 302.8,105.4 302.1,105.5 301.5,105.7 300.8,105.8 300.1,106.0 299.5,106.1 298.8,106.3 298.1,106.5 297.4,106.6 296.8,106.8 296.1,107.0 295.5,107.2 294.8,107.4 294.1,107.6 293.5,107.8 292.8,108.0 292.2,108.2 291.5,108.5 290.9,108.7 290.3,108.9 289.6,109.2 289.0,109.4 288.3,109.7 287.7,109.9 287.1,110.2 286.4,110.4 285.8,110.7 285.2,111.0 284.6,111.2 283.9,111.5 283.3,111.8 282.7,112.1 282.1,112.4 281.5,112.7 280.9,113.0 280.3,113.3 279.7,113.6 279.1,113.9 278.5,114.3 277.9,114.6 277.3,114.9 276.8,115.3 276.2,115.6 275.6,115.9 275.0,116.3 274.5,116.7 273.9,117.0 273.3,117.4 272.8,117.7 272.2,118.1 271.7,118.5 271.1,118.9 270.6,119.3 270.1,119.6 269.5,120.0 269.0,120.4 268.5,120.8 267.9,121.2 267.4,121.6 266.9,122.1 266.4,122.5 265.9,122.9 265.4,123.3 264.9,123.7 264.4,124.2 263.9,124.6 263.4,125.1 262.9,125.5 262.5,125.9 262.0,126.4 261.5,126.9 261.1,127.3 260.6,127.8 260.1,128.2 259.7,128.7 259.3,129.2 258.8,129.7 258.4,130.1 257.9,130.6 257.5,131.1 257.1,131.6 256.7,132.1 256.3,132.6 255.9,133.1 255.5,133.6 255.1,134.1 254.7,134.6 254.3,135.1 253.9,135.6 253.5,136.1 253.2,136.7 252.8,137.2 252.4,137.7 252.1,138.2 251.7,138.8 251.4,139.3 251.0,139.8 250.7,140.4 250.4,140.9 250.1,141.4 249.7,142.0 249.4,142.5 249.1,143.1 248.8,143.6 248.5,144.2 248.2,144.8 247.9,145.3 247.7,145.9 247.4,146.4 247.1,147.0 246.9,147.6 246.6,148.2 246.3,148.7 246.1,149.3 245.9,149.9 245.6,150.5 245.4,151.0 245.2,151.6 245.0,152.2 244.7,152.8 244.5,153.4 244.3,154.0 244.1,154.5 243.9,155.1 243.8,155.7 243.6,156.3 243.4,156.9 243.3,157.5 243.1,158.1 242.9,158.7 242.8,159.3 242.7,159.9 242.5,160.5 242.4,161.1 242.3,161.7 242.1,162.3 242.0,162.9 241.9,163.5 241.8,164.1 241.7,164.8 241.6,165.4 241.6,166.0 241.5,166.6 241.4,167.2 241.4,167.8 241.3,168.4 241.2,169.0 241.2,169.6 241.2,170.3 241.1,170.9 241.1,171.5 241.1,172.1 241.1,172.7 241.1,173.3 241.0,173.9 241.1,174.6 241.1,175.2 241.1,175.8 241.1,176.4 241.1,177.0 241.2,177.6 241.2,178.2 241.2,178.9 241.3,179.5 241.4,180.1 241.4,180.7 241.5,181.3 241.6,181.9 241.6,182.5 241.7,183.1 241.8,183.7 241.9,184.3 242.0,185.0 242.1,185.6 242.3,186.2 242.4,186.8 242.5,187.4 242.7,188.0 242.8,188.6 242.9,189.2 243.1,189.8 243.3,190.4 243.4,191.0 243.6,191.6 243.8,192.2 243.9,192.7 244.1,193.3 244.3,193.9 244.5,194.5 244.7,195.1 245.0,195.7 245.2,196.3 245.4,196.9 245.6,197.4 245.9,198.0 246.1,198.6 246.3,199.2 246.6,199.7 246.9,200.3 247.1,200.9 247.4,201.4 247.7,202.0 247.9,202.6 248.2,203.1 248.5,203.7 248.8,204.2 249.1,204.8 249.4,205.3 249.7,205.9 250.1,206.4 250.4,207.0 250.7,207.5 251.0,208.1 251.4,208.6 251.7,209.1 252.1,209.7 252.4,210.2 252.8,210.7 253.2,211.2 253.5,211.8 253.9,212.3 254.3,212.8 254.7,213.3 255.1,213.8 255.5,214.3 255.9,214.8 256.3,215.3 256.7,215.8 257.1,216.3 257.5,216.8 257.9,217.3 258.4,217.7 258.8,218.2 259.3,218.7 259.7,219.2 260.1,219.6 260.6,220.1 261.1,220.6 261.5,221.0 262.0,221.5 262.5,221.9 262.9,222.4 263.4,222.8 263.9,223.3 264.4,223.7 264.9,224.1 265.4,224.6 265.9,225.0 266.4,225.4 266.9,225.8 267.4,226.2 267.9,226.6 268.5,227.1 269.0,227.5 269.5,227.8 270.1,228.2 270.6,228.6 271.1,229.0 271.7,229.4 272.2,229.8 272.8,230.1 273.3,230.5 273.9,230.9 274.5,231.2 275.0,231.6 275.6,231.9 276.2,232.3 276.8,232.6 277.3,233.0 277.9,233.3 278.5,233.6 279.1,233.9 279.7,234.3 280.3,234.6 280.9,234.9 281.5,235.2 282.1,235.5 282.7,235.8 283.3,236.1 283.9,236.4 284.6,236.6 285.2,236.9 285.8,237.2 286.4,237.5 287.1,237.7 287.7,238.0 288.3,238.2 289.0,238.5 289.6,238.7 290.3,239.0 290.9,239.2 291.5,239.4 292.2,239.6 292.8,239.9 293.5,240.1 294.1,240.3 294.8,240.5 295.5,240.7 296.1,240.9 296.8,241.1 297.4,241.2 298.1,241.4 298.8,241.6 299.5,241.8 300.1,241.9 300.8,242.1 301.5,242.2 302.1,242.4 302.8,242.5 303.5,242.6 304.2,242.8 304.9,242.9 305.5,243.0 306.2,243.1 306.9,243.2" fill="none" stroke="#a8a0a0" stroke-width="0.8"/>
<path d="M200.0,136.8 201.1,135.4 202.3,134.0 203.8,133.1 205.4,131.4 207.5,130.5 209.3,129.1 211.0,127.7 212.5,127.0 213.5,125.6 215.0,124.8 216.4,123.3 218.1,122.1 220.0,121.1 221.8,120.3 223.2,118.8 224.9,117.8 226.7,117.3 228.5,116.7 230.0,115.6 231.9,115.1 233.7,115.3 235.7,114.8 237.4,115.8 240.2,116.6 241.2,118.3 243.0,118.3 244.6,117.8 246.4,117.6 247.7,116.5 249.4,116.2 251.0,115.6 252.5,114.8 255.0,115.5 256.8,114.8 258.8,114.5 260.6,114.6 262.5,115.0 264.4,114.5 266.2,114.1 268.1,114.3 270.0,114.2 271.8,113.8 273.8,113.9 276.3,113.2 278.1,112.5 280.0,112.4 M280.0,112.4 281.9,111.6 283.8,110.7 285.7,110.2 287.3,109.8 288.9,109.1 290.8,109.4 292.3,107.7 294.3,106.4 296.4,105.9 298.5,104.1 300.6,101.7 302.9,99.5 305.7,98.8 307.6,98.0 310.0,96.9 307.3,98.4 305.1,100.6 303.1,102.5 305.0,103.1 308.1,103.7 309.7,104.2 311.2,105.2 313.5,105.2 315.4,106.5 314.3,107.9 312.1,109.0 309.8,109.9 310.6,111.9 312.6,113.4 314.5,112.6 316.3,111.6 318.2,112.4 316.8,114.1 315.9,115.2 316.9,116.7 317.7,118.2 316.4,119.6 313.9,120.9 311.1,121.5 308.8,123.3 306.9,123.5 305.0,123.7 303.0,123.7 301.3,124.9 299.4,125.0 297.5,125.5 295.6,125.5 293.7,125.8 291.8,126.1 290.1,126.9 287.6,128.1 286.3,129.3 284.8,130.3 283.5,131.5 282.7,133.2 281.5,134.5 280.0,135.5 M291.9,109.2 293.7,106.8 296.5,106.6 295.0,108.6 291.9,109.2 M320.6,113.6 322.5,111.8 324.5,110.6 326.4,111.1 328.2,112.3 329.9,113.5 331.3,112.8 333.5,111.7 334.2,110.3 334.5,108.6 337.5,108.5 339.4,108.2 341.2,107.2 343.1,107.9 345.0,107.7 348.0,108.3 350.6,109.5 353.1,109.8 355.0,109.4 357.4,108.4 360.0,108.2 M320.6,113.6 323.1,115.6 325.8,117.0 328.3,118.3 329.8,119.0 331.4,119.6 333.8,121.0 336.2,122.0 338.9,121.3 341.4,122.1 343.9,123.3 346.3,124.8 348.5,125.9 349.1,128.2 351.2,129.9 352.8,131.6 353.9,133.5 355.1,136.1 355.6,138.0 M351.9,113.2 353.4,112.5 355.1,111.7 358.0,112.8 360.0,113.6 M360.0,108.2 362.7,107.8 365.0,106.1 367.5,105.7 369.9,106.1 372.5,105.8 374.3,106.2 376.2,106.6 374.8,108.4 373.3,110.8 370.7,112.2 367.6,112.0 365.0,112.0 362.6,112.8 360.0,113.2 M360.0,114.9 362.2,115.1 364.4,114.8 366.6,115.5 368.5,116.1 370.1,117.1 371.8,118.1 373.5,118.9 374.9,120.0 376.4,120.9 377.8,122.4 379.6,123.2 381.1,124.5 383.2,124.9 385.1,125.7 386.8,127.0 388.9,127.8 391.1,128.3 393.0,128.9 395.2,129.5 396.7,127.6 395.0,126.1 M389.4,122.4 390.8,121.2 392.5,120.5 394.0,119.5 395.5,118.2 397.9,117.4 400.5,116.3 402.8,114.8 404.7,115.9 406.7,117.3 409.4,118.6 412.6,119.6 414.8,119.1 417.6,120.4 420.3,121.1 422.9,122.4 425.4,124.2 427.9,126.0 429.2,127.0 430.2,128.3 431.3,129.7 432.5,130.8 434.0,131.9 435.2,133.2 436.3,134.5 438.0,135.3 439.5,137.5 M390.0,122.5 391.9,122.9 393.7,123.4 395.6,123.6 397.4,124.0 399.4,124.4 401.4,124.7 403.0,126.2 405.1,126.7 406.7,128.4 408.5,129.7 410.2,130.6 411.6,131.8 412.5,133.4 413.9,134.5 415.2,135.8 M380.0,137.8 380.5,136.2 381.3,134.6 383.9,133.3 386.2,134.5 M197.5,138.0 196.0,139.4 194.8,141.2 194.0,143.2 192.6,144.4 191.5,145.9 190.8,147.6 190.1,149.3 188.7,150.9 187.8,152.8 186.6,154.5 184.9,155.6 184.3,157.3 183.4,158.9 182.2,160.3 181.6,162.1 180.3,163.5 179.4,165.0 179.0,166.8 178.3,168.4 177.7,169.9 177.1,171.5 176.2,173.0 175.8,174.6 175.1,176.2 174.7,177.8 173.4,179.1 173.4,180.9 172.8,182.4 172.3,183.9 171.5,185.4 171.3,187.2 170.3,188.7 170.0,190.5 169.6,192.2 169.1,193.8 169.2,195.6 168.1,198.0 M172.5,193.0 172.7,191.3 172.6,189.6 172.7,187.8 174.0,186.4 174.1,184.6 175.0,183.0 175.8,181.4 176.3,179.7 176.7,177.9 177.8,176.1 178.8,174.3 179.9,172.8 180.3,170.9 182.5,168.7 184.3,166.8 186.4,166.7 186.6,168.6 186.2,171.7 185.9,173.6 185.4,175.5 184.9,177.3 185.0,179.3 184.3,181.1 183.1,183.0 183.0,184.9 182.7,186.7 182.7,188.6 182.5,190.5 182.4,192.4 181.9,194.2 181.9,196.1 181.9,198.0 M172.5,189.2 173.4,191.0 172.1,193.4 171.4,196.2 170.0,198.0 M356.2,138.0 358.7,139.9 360.2,140.9 361.7,141.3 364.1,143.1 363.4,145.6 362.5,147.3 364.1,149.2 364.6,151.8 364.1,154.3 363.0,156.6 361.9,157.7 359.2,157.7 357.8,159.4 356.1,161.1 355.5,163.0 356.5,164.6 357.2,166.3 358.4,168.2 360.2,169.8 360.2,171.8 361.3,174.2 362.5,176.1 363.4,178.3 364.8,179.5 367.0,180.2 368.8,181.1 371.2,181.8 373.5,182.4 M363.8,158.0 365.0,159.2 366.2,160.4 367.0,161.8 367.8,163.2 M365.6,146.1 367.7,147.1 370.0,147.3 371.7,147.9 373.3,147.9 374.9,147.6 376.8,147.2 378.8,146.8 381.3,144.9 382.1,142.3 383.5,140.0 383.8,138.0 M382.5,140.5 383.5,142.5 384.6,144.5 386.5,145.9 387.7,147.9 388.5,150.5 M385.0,139.2 386.9,139.7 388.2,141.1 390.1,141.6 391.5,142.8 392.5,144.2 393.4,145.7 394.8,147.5 396.4,149.2 397.5,151.0 397.8,153.2 400.0,155.5 M349.4,141.8 351.2,141.2 353.0,142.9 352.1,145.2 349.6,144.1 349.4,141.8 M348.1,165.8 349.9,165.0 351.6,166.5 350.1,168.6 348.9,167.7 348.1,165.8 M350.0,183.0 352.6,183.3 353.7,185.5 354.7,188.7 353.7,191.7 354.1,194.9 353.2,198.0 M350.0,183.0 350.2,184.7 351.0,186.1 352.1,188.6 352.5,191.8 352.4,194.8 352.2,198.0 M361.2,185.5 363.8,184.0 366.5,184.8 367.7,186.8 369.6,187.8 371.4,188.3 373.9,187.7 376.1,189.1 377.3,191.7 377.9,194.5 378.4,196.7 378.8,198.0 M362.5,187.4 363.7,189.1 365.4,190.4 366.5,191.8 368.0,192.8 369.0,194.2 370.4,195.3 371.2,198.0 M321.2,192.0 322.3,190.5 323.6,188.8 325.7,188.8 327.5,188.0 329.7,189.4 328.5,190.6 327.2,191.7 325.6,194.4 323.9,196.5 321.8,195.5 321.6,193.8 321.2,192.0 M428.1,138.0 429.1,139.8 430.7,141.1 431.5,143.6 433.3,145.5 432.9,148.3 435.3,149.9 437.3,151.5 439.6,153.3 441.1,155.7 440.2,157.7 442.7,156.6 445.2,155.1 447.9,155.2 450.5,156.7 452.6,159.0 454.2,159.9 455.4,161.0 456.7,162.0 457.5,163.4 458.7,165.0 460.1,166.3 461.7,167.8 462.9,169.4 464.0,171.1 465.0,173.0 466.2,174.7 466.9,176.7 467.7,178.6 467.7,180.6 468.0,182.4 468.7,184.3 469.3,186.1 469.0,188.1 469.9,189.8 470.1,191.7 470.8,193.6 470.7,195.5 471.2,198.0 M462.5,164.9 464.0,167.0 465.2,169.2 M410.0,163.6 411.9,164.3 413.9,164.8 415.0,166.2 416.6,167.1 417.4,168.6 418.5,169.9 419.0,172.0 419.8,174.0 M400.0,196.8 402.7,195.4 404.4,196.8 M172.8,200.5 173.3,202.1 173.3,203.8 173.5,205.5 172.9,207.2 172.7,208.8 172.3,210.5 172.2,212.1 171.9,213.8 171.5,215.5 171.8,217.2 171.6,218.9 170.8,220.4 171.4,222.2 170.6,223.8 170.5,225.5 170.7,227.4 169.7,229.3 170.0,231.2 170.6,233.0 170.9,234.7 171.2,236.4 172.2,237.9 172.2,240.0 172.5,242.0 M166.0,198.0 165.7,199.7 165.2,201.3 165.0,203.0 164.7,204.6 164.7,206.3 164.2,207.9 164.1,209.6 163.8,211.3 164.0,213.0 164.0,214.7 163.7,216.4 163.2,218.0 163.3,219.7 162.4,221.3 162.4,223.0 162.2,224.7 162.0,226.3 161.7,228.0 161.8,229.7 162.1,231.4 161.2,233.0 161.4,234.7 161.8,236.3 162.0,238.0 162.4,239.7 163.5,241.2 163.6,243.1 164.9,244.9 166.0,246.9 166.4,248.7 166.7,250.5 167.3,252.1 167.1,253.9 167.1,255.5 167.8,258.0 M353.8,217.4 355.6,215.5 356.8,213.0 357.7,210.5 359.1,208.1 360.9,205.7 362.6,203.7 363.9,201.5 364.1,199.1 365.0,198.0 M353.1,198.0 355.1,199.6 357.4,200.5 360.1,200.1 361.9,198.6 M373.8,198.0 375.4,200.6 376.3,202.0 377.8,202.9 379.0,204.1 380.1,205.3 382.5,207.5 385.0,208.2 387.6,208.1 389.4,206.6 390.5,205.5 391.5,204.2 393.7,202.4 396.1,200.2 398.9,199.6 400.0,198.6 M387.5,208.0 389.6,210.4 390.6,213.2 392.2,214.9 M391.2,257.0 392.8,256.2 393.9,254.5 396.3,255.5 397.5,257.5 M423.2,219.2 421.7,221.6 420.3,224.3 421.3,227.3 422.5,228.8 M405.6,245.5 407.6,244.7 409.6,246.7 409.6,249.2 409.6,251.9 408.1,254.2 406.0,253.8 405.0,251.1 404.7,248.2 405.6,245.5 M471.0,198.0 472.0,200.3 473.9,202.6 475.2,201.5 M472.5,205.5 474.0,207.5 474.9,209.7 476.3,212.1 477.7,214.5 477.6,216.9 477.5,219.5 477.4,221.3 476.8,223.1 475.0,224.3 473.5,225.8 471.9,227.1 470.2,228.5 468.4,229.3 467.2,230.8 466.0,233.3 467.3,235.7 467.0,237.7 467.2,239.5 467.8,241.4 467.1,243.2 467.2,245.6 466.9,248.0 467.4,249.7 467.4,251.3 467.3,253.0 466.9,254.7 467.3,256.3 467.5,258.0 M475.0,224.2 476.3,225.2 477.5,226.2 479.5,228.2 M167.8,258.0 168.4,259.6 169.0,261.2 169.3,262.9 169.2,264.8 170.2,266.3 170.1,268.1 171.2,269.6 171.6,271.3 171.9,273.0 172.6,274.6 172.8,276.3 172.7,278.1 173.2,279.8 173.7,281.4 174.3,283.0 174.5,284.8 174.9,286.4 175.7,288.0 176.4,290.0 177.9,291.6 178.3,293.7 179.4,295.5 179.8,297.4 180.5,299.3 181.1,301.1 181.6,302.9 181.2,305.0 182.3,306.6 182.6,308.6 183.4,310.4 184.3,312.3 184.8,314.4 185.6,316.1 187.1,317.3 187.8,318.0 M451.2,271.8 452.4,270.6 454.2,272.3 455.2,274.9 457.6,276.7 460.2,278.4 462.7,280.2 465.0,281.7 467.6,282.5 468.1,280.5 467.6,278.7 467.9,276.7 467.7,275.0 467.0,273.4 466.6,271.8 466.5,270.1 466.3,268.4 466.4,266.8 466.0,265.1 466.1,263.4 466.0,261.8 466.2,259.9 466.0,258.0 M468.5,273.0 470.4,272.6 472.0,274.2 471.9,277.4 469.9,278.3 468.5,276.8 468.4,274.9 468.5,273.0 M200.0,334.9 201.4,336.3 202.8,337.8 203.9,339.4 204.7,341.4 206.5,342.5 207.5,344.3 208.3,346.1 209.3,347.4 206.7,348.8 204.4,346.8 M329.4,357.4 331.3,358.4 333.2,358.7 335.0,359.3 332.5,358.3 330.0,357.8 M342.5,377.0 345.1,375.9 347.0,375.3 348.8,374.8 350.6,373.8 352.5,373.6 354.4,374.3 356.3,374.6 358.1,374.1 360.0,374.0 M380.0,371.8 381.9,369.3 383.3,368.2 385.0,367.9 386.5,367.3 386.1,369.6 383.6,371.5 382.0,372.0 380.4,373.1 380.0,371.8 M410.0,370.5 411.7,369.0 413.6,367.8 415.0,367.0 416.4,366.0 417.8,365.2 418.9,364.0 420.1,362.9 421.2,361.8 M337.5,383.1 340.2,381.4 341.2,380.0 342.5,378.8 343.4,377.1 343.0,375.9 344.9,376.0 347.0,376.0 348.8,375.1 350.6,374.5 352.5,374.0 354.4,374.0 356.2,374.1 358.1,374.4 360.1,374.0 361.9,374.8 M372.5,377.2 374.6,378.4 376.2,380.0 377.5,381.5 M256.0,215.8 255.7,213.8 255.2,211.9 255.3,210.0 256.0,208.1 256.0,206.3 256.8,204.8 258.1,202.9 259.7,201.2 260.7,199.1 262.2,197.5 263.4,195.6 264.8,193.9 266.7,193.1 268.6,193.0 271.7,193.0 272.5,191.5 273.3,190.2 274.3,188.5 275.0,186.8 277.1,184.8 279.2,183.1 281.5,181.1 283.9,179.0 283.6,176.1 283.5,173.1 285.3,170.6 286.6,170.6 287.9,169.6 289.5,169.1 291.6,171.2 293.8,171.2 296.1,171.5 298.8,171.7 299.6,173.2 301.3,173.7 303.3,175.7 305.9,175.2 308.8,175.8 309.6,178.1 310.2,180.2 310.2,182.1 311.3,183.5 311.5,185.6 309.9,186.3 308.3,186.9 305.8,188.7 304.7,190.5 304.6,192.7 302.8,194.8 301.3,197.2 299.2,198.8 297.1,201.1 295.7,203.5 294.3,205.9 292.6,208.2 291.1,208.4 288.6,208.6 286.7,209.2 284.9,209.3 283.3,209.1 281.6,209.4 279.2,209.3 277.3,209.0 275.8,209.6 274.2,210.1 272.6,209.3 270.8,209.5 269.1,209.3 266.5,210.5 263.9,211.7 261.7,213.3 259.1,214.6 257.8,214.9 256.0,215.8 M270.1,190.0 271.6,189.0 272.4,190.8 270.8,191.0 270.1,190.0 M247.9,188.8 250.3,189.2 252.8,187.8 254.4,188.3 256.3,188.2 256.7,186.1 254.9,184.4 257.3,183.2 259.5,184.5 260.9,187.6 262.0,184.8 263.0,183.0 264.1,181.5 266.0,178.9 268.5,177.6 269.9,176.2 270.9,174.5 271.5,172.3 272.7,170.4 273.9,169.1 275.9,168.1 275.8,166.7 275.2,165.1 276.5,162.4 273.9,162.8 272.2,163.1 270.3,162.7 267.2,163.6 266.0,166.0 265.6,167.5 263.7,169.4 262.5,170.7 261.5,172.0 259.7,172.8 258.4,173.9 257.4,175.3 256.3,176.2 253.4,177.0 251.5,175.1 251.4,173.5 249.3,174.3 248.6,175.9 248.5,177.7 248.1,179.7 247.5,181.6 246.8,184.2 247.2,186.5 247.9,188.8 M283.0,166.6 282.5,164.2 283.7,162.6 283.9,161.0 285.9,161.7 287.8,162.0 290.5,162.6 292.2,163.0 293.6,163.7 295.3,162.4 296.8,161.3 299.0,162.0 300.2,163.7 301.4,165.9 301.9,168.1 301.0,170.6 298.9,170.9 296.5,169.7 293.9,169.4 292.0,167.8 289.7,167.6 287.9,167.4 285.7,167.0 283.0,166.6 M288.7,161.5 291.4,162.3 293.0,161.4 294.8,160.9 297.0,160.2 295.6,159.0 293.2,158.4 290.2,158.9 288.7,161.5 M278.4,166.3 280.9,166.7 283.0,165.0 283.7,163.2 284.5,161.3 283.8,159.0 283.0,156.6 280.3,158.1 279.5,160.2 278.7,161.7 278.4,163.4 278.4,166.3 M279.6,157.9 281.9,158.1 282.0,156.5 280.6,156.1 279.6,157.9 M282.9,155.1 285.4,155.7 286.6,154.7 285.1,152.7 283.0,153.3 282.9,155.1 M273.0,157.1 275.4,157.7 277.6,159.1 278.6,156.5 276.7,155.2 274.4,155.9 273.0,157.1 M273.1,154.8 275.9,155.0 278.9,154.1 278.5,151.4 275.9,151.3 273.2,152.5 273.1,154.8 M268.1,150.5 270.4,151.9 273.0,150.4 275.1,150.4 276.9,149.4 279.6,148.5 280.8,146.9 282.1,145.9 282.4,143.6 281.6,140.5 280.1,139.1 277.7,139.7 275.0,141.0 272.3,142.2 271.0,144.2 269.1,145.9 268.6,148.3 268.1,150.5 M282.0,138.2 284.8,136.1 287.1,137.3 288.9,139.4 288.7,141.8 286.3,143.1 283.2,143.8 281.8,141.3 282.0,138.2 M282.9,150.9 284.9,151.0 287.8,150.6 289.5,148.7 289.5,147.0 290.2,145.9 288.1,145.6 285.8,146.4 284.0,148.6 282.9,150.9 M290.8,144.7 291.7,146.4 293.2,146.2 294.2,143.7 292.5,143.3 290.8,144.7 M289.4,156.0 291.3,155.6 292.4,154.9 291.2,154.0 289.8,154.5 289.4,156.0 M288.0,157.9 290.2,158.0 290.9,157.5 289.3,156.8 287.8,156.8 288.0,157.9 M290.4,150.3 291.9,150.6 293.0,149.0 291.7,148.8 290.4,150.3 M292.8,150.7 294.2,151.6 294.5,150.2 293.2,150.0 292.8,150.7 M288.6,152.8 289.6,152.9 289.6,152.1 288.4,151.9 288.6,152.8 M259.9,172.9 261.6,172.6 261.1,171.3 260.1,171.5 259.9,172.9 M247.2,170.1 248.6,170.4 248.5,168.5 247.5,168.9 247.2,170.1 M231.6,178.1 233.1,176.7 232.3,176.6 231.1,177.2 231.6,178.1 M224.4,177.7 225.2,176.6 224.6,175.4 224.2,176.5 224.4,177.7 M278.5,149.8 280.1,149.9 280.5,149.7 278.9,149.1 278.5,149.8 M272.3,130.2 275.2,129.6 275.6,131.3 274.6,132.8 272.9,133.3 272.1,135.3 270.6,135.0 270.2,133.6 269.4,132.1 270.9,131.3 272.3,130.2 M259.0,132.8 260.2,132.4 261.1,134.9 258.6,136.9 257.8,139.3 256.7,140.8 256.2,137.9 256.6,135.6 258.3,134.6 259.0,132.8 M249.6,136.7 250.0,137.7 249.3,140.7 247.2,142.9 248.1,141.2 248.4,138.7 249.6,136.7 M239.5,147.0 241.4,147.9 242.8,146.6 241.4,145.8 239.5,147.0 M257.1,178.7 258.9,178.2 258.8,179.9 257.1,180.2 257.1,178.7 M249.6,171.2 252.3,170.0 254.1,168.5 255.6,166.6 256.0,164.2 254.4,163.9 252.8,163.4 251.4,164.5 250.3,165.7 249.6,168.5 249.6,171.2 M265.0,153.6 267.2,154.0 268.8,153.0 267.5,151.3 265.9,152.5 265.0,153.6 M273.7,169.8 275.9,169.0 276.0,166.6 274.6,166.9 273.7,169.8 M281.3,133.8 278.8,134.2 277.8,135.6 276.2,136.0 274.8,136.9 273.0,137.8 271.6,139.1 270.3,140.6 269.0,142.1 268.8,144.8 267.4,146.0 266.4,147.5 265.2,148.9 264.5,150.2 264.5,152.7 264.6,154.9 267.0,155.2 269.5,155.6 271.1,156.1 272.7,156.3 270.3,158.0 268.5,158.3 267.0,159.2 264.3,160.3 262.9,162.0 261.7,163.1 260.1,163.4 262.6,164.2 265.5,164.2 266.0,166.7 263.7,168.0 261.7,167.7 259.9,168.0 257.3,166.7 256.9,164.9 255.5,164.1 253.9,163.8 252.0,162.6 250.3,161.9 249.6,160.4 M286.4,227.1 285.4,225.8 284.3,224.6 282.8,224.1 284.2,223.5 282.8,220.4 285.3,220.0 283.3,218.8 285.1,218.5 286.1,217.8 287.0,219.5 288.7,220.4 290.6,220.8 293.2,220.3 294.0,221.9 294.1,224.0 293.1,226.3 291.0,226.4 289.0,227.3 286.4,227.1 M293.1,268.3 295.9,268.6 297.3,267.4 299.8,268.0 301.8,268.5 303.7,268.1 305.6,267.9 305.9,267.1 305.5,265.9 306.3,264.5 305.6,263.2 304.3,262.5 304.9,260.7 304.2,259.0 303.2,257.7 302.3,255.4 301.6,253.6 301.3,252.0 302.6,250.9 303.3,249.0 300.7,248.9 300.7,248.0 302.1,246.2 299.2,245.7 297.4,247.5 297.5,249.7 296.5,251.7 296.7,253.7 297.1,255.3 299.0,256.5 299.7,258.2 299.4,259.9 296.8,260.2 296.6,261.5 296.7,263.0 294.8,264.1 297.4,264.9 297.4,266.0 296.3,266.6 294.4,267.0 293.1,268.3 M287.1,262.6 286.5,260.4 288.3,257.8 289.0,255.9 291.5,255.2 293.7,253.8 295.8,254.8 296.3,257.0 294.8,258.1 294.6,259.7 293.2,262.3 291.5,262.6 289.8,262.6 287.1,262.6 M348.4,240.2 345.6,238.9 343.3,240.6 341.4,241.7 338.8,242.4 336.7,241.6 335.4,239.0 334.9,236.1 334.8,233.9 336.4,231.5 337.6,229.8 338.6,228.2 336.9,226.3 334.9,227.4 334.3,229.0 334.2,230.6 333.9,232.3 332.6,233.4 331.1,236.0 330.6,238.2 330.8,241.0 332.3,242.5 332.9,243.8 332.0,245.3 330.7,247.7 330.7,249.9 330.9,252.3 329.7,254.4 327.6,255.2 327.1,257.0 325.6,257.0 325.5,256.1 325.0,254.7 324.3,252.7 323.4,250.8 323.0,248.6 321.9,247.3 321.6,246.0 321.8,244.6 320.7,247.3 319.5,248.5 317.7,249.2 316.0,250.2 315.2,248.9 314.8,247.1 313.7,245.5 313.7,242.9 314.0,240.7 314.5,238.5 316.0,237.3 317.2,236.2 318.6,234.4 320.4,232.5 322.3,230.3 323.2,227.7 324.9,225.5 326.0,223.3 326.1,221.2 326.9,219.3 328.3,218.0 329.6,216.7 330.6,215.2 332.5,214.2 333.4,212.7 334.8,211.5 336.5,211.6 338.1,212.2 340.0,213.1 341.0,213.8 342.9,214.7 344.7,214.3 347.3,214.4 349.8,215.0 352.2,215.4 353.3,217.9 352.9,219.6 351.2,219.6 348.7,220.8 346.3,221.1 344.4,220.5 345.6,222.1 347.8,222.4 348.7,225.2 350.5,225.7 352.3,226.4 353.4,224.5 355.7,223.0 354.6,221.8 354.1,220.3 355.0,218.2 356.6,216.4 355.2,214.7 354.0,213.5 353.0,212.5 355.4,212.4 357.8,212.0 358.4,210.4 359.9,208.8 360.6,206.8 362.5,206.0 363.8,203.9 364.5,202.1 363.6,199.8 M348.7,239.9 347.3,238.2 347.4,236.1 349.9,235.6 351.3,237.3 350.6,238.9 348.7,239.9 M353.8,235.0 352.2,233.6 351.3,230.2 352.6,231.0 354.7,233.3 353.8,235.0 M348.4,240.2 345.9,242.3 343.1,243.3 341.1,243.2 340.0,244.5 340.3,246.1 342.1,246.9 342.5,249.0 341.8,250.2 340.2,250.0 337.7,249.4 337.4,251.8 338.4,254.6 338.3,255.7 337.6,257.2 336.2,258.1 335.1,258.7 334.1,257.5 332.2,259.1 329.5,259.4 328.0,260.6 326.8,260.1 326.3,259.4 324.3,260.6 322.0,261.0 321.7,260.2 320.9,258.6 320.6,256.9 321.2,255.1 321.7,254.0 321.6,252.1 321.7,250.9 320.3,251.9 319.0,252.5 317.5,254.0 318.1,256.7 319.0,259.5 318.6,261.3 316.7,262.5 315.0,262.4 313.0,262.7 311.4,264.6 310.7,266.3 308.7,267.9 306.2,268.1 305.4,270.9 303.0,271.9 300.9,271.7 300.0,270.8 299.6,273.9 297.1,272.9 295.4,272.7 293.8,273.0 294.4,275.2 295.9,276.0 297.7,276.8 298.0,279.4 299.5,282.0 298.4,284.4 298.4,286.1 297.4,288.0 295.2,287.3 293.2,286.3 291.6,285.6 289.7,286.1 288.4,285.0 286.8,284.5 285.2,283.6 283.9,284.8 282.2,285.1 282.4,288.1 281.5,290.1 281.5,292.3 279.9,293.6 279.4,295.4 280.6,297.8 279.5,300.3 281.2,300.3 283.1,300.2 284.7,302.9 286.1,304.4 M322.3,258.2 321.5,255.8 323.4,255.7 324.6,255.9 324.5,257.3 322.3,258.2 M286.1,304.4 289.0,303.4 290.6,303.5 292.2,303.9 293.7,304.2 295.7,303.9 296.9,302.5 298.2,301.3 299.2,300.1 298.6,297.8 300.6,295.5 302.5,294.8 304.5,293.9 305.7,292.8 307.4,291.7 306.5,289.7 307.8,289.0 309.7,288.9 311.3,289.7 312.7,290.3 314.8,289.3 315.6,288.3 317.1,287.5 318.8,286.6 320.5,288.1 321.2,289.4 321.8,291.1 323.4,291.9 325.5,293.3 328.0,295.4 329.8,296.2 331.4,297.0 332.7,297.9 333.7,300.5 333.0,303.0 334.7,301.7 335.9,300.4 336.0,299.2 335.9,296.9 337.9,296.9 338.3,298.0 337.5,296.1 335.3,295.0 333.2,294.0 333.5,293.2 332.0,292.8 330.2,292.6 329.1,290.5 327.9,288.7 325.5,287.7 325.8,285.8 325.1,283.8 327.8,283.3 328.0,285.4 329.3,284.5 330.2,285.6 331.1,287.2 333.7,288.4 335.4,289.8 337.5,290.3 339.8,291.6 340.6,293.6 341.0,295.7 342.2,297.7 343.5,299.3 344.8,300.7 345.0,301.8 346.2,303.7 347.5,304.1 348.2,304.7 349.6,303.7 349.1,301.9 350.7,300.8 351.4,299.1 349.0,298.4 348.3,297.0 347.6,296.0 347.8,294.1 349.5,294.4 350.9,293.2 352.8,292.4 354.0,292.4 355.2,292.9 354.5,294.3 355.0,295.5 356.6,297.0 357.5,297.7 358.2,299.8 359.0,301.0 360.7,300.8 363.6,301.3 366.1,300.9 365.9,299.5 368.3,299.1 370.4,299.4 372.5,298.2 373.9,296.4 376.3,296.0 377.0,296.7 377.0,298.6 377.7,300.6 378.0,302.4 377.2,305.4 376.8,308.0 376.6,309.9 374.1,311.0 372.3,310.6 369.6,312.1 368.3,312.1 367.3,313.5 365.5,313.6 364.1,314.2 362.1,314.7 360.2,315.3 358.2,314.9 356.4,314.8 354.6,314.4 353.4,314.7 351.6,314.1 349.6,313.4 347.5,314.1 346.0,315.3 344.0,316.4 344.8,319.1 343.5,320.6 341.1,321.0 339.5,320.2 337.7,320.4 336.2,319.1 333.7,319.6 332.8,317.4 330.5,316.8 328.2,316.2 325.2,316.0 323.3,314.9 321.8,314.1 322.1,312.4 323.2,310.7 322.1,309.1 321.9,307.5 322.9,305.6 321.6,306.3 320.3,305.4 317.4,306.4 315.6,306.0 313.7,306.4 311.7,306.5 309.8,306.6 307.5,305.7 305.2,305.5 303.5,305.8 301.8,306.1 300.0,306.5 298.4,307.4 296.8,306.9 295.3,307.8 293.7,307.8 291.5,307.4 289.8,307.0 288.1,307.0 286.7,305.0 285.3,304.8 284.4,306.7 282.5,308.3 280.7,309.2 278.3,309.7 276.4,311.2 274.8,312.6 274.8,315.4 273.3,316.6 272.0,318.1 270.1,318.8 268.0,318.6 265.7,318.9 264.3,319.7 262.8,320.5 261.3,321.1 259.9,322.1 258.3,322.9 256.8,323.8 255.8,325.7 254.1,327.0 252.8,329.1 253.9,330.7 253.4,332.6 253.6,334.3 254.1,335.8 253.7,337.7 252.3,338.9 249.5,340.6 250.8,341.8 251.6,343.6 250.4,346.5 251.9,347.5 253.5,348.3 254.9,349.5 255.9,350.7 256.8,352.1 257.4,353.6 258.7,355.5 260.2,356.7 261.1,358.6 262.6,359.8 264.7,361.0 265.7,362.5 267.3,363.2 268.6,364.3 270.1,365.1 271.4,366.2 273.0,367.1 274.8,367.4 276.8,367.0 278.6,367.7 280.4,367.8 282.2,368.2 284.1,368.5 285.8,369.5 287.7,369.8 289.4,369.4 291.0,369.3 292.7,369.1 294.6,369.3 296.5,368.7 298.3,369.1 300.1,368.7 302.5,369.3 304.7,370.2 306.9,371.1 308.1,372.4 309.7,372.6 311.8,373.4 313.8,373.1 316.6,373.2 319.2,374.0 319.9,376.0 319.5,378.3 318.9,379.5 318.3,381.8 320.3,381.9 321.5,383.3 323.2,384.2 325.2,384.5 327.1,386.4 M326.2,303.0 328.0,303.2 329.7,303.0 331.4,303.0 333.2,302.4 331.5,304.4 332.1,306.4 330.3,305.5 328.5,304.6 326.0,304.6 326.2,303.0 M319.1,295.3 319.9,296.1 320.0,298.5 320.0,300.7 318.1,301.2 317.2,299.7 316.9,296.9 317.8,295.8 319.1,295.3 M319.5,290.6 319.4,291.6 318.9,295.0 317.8,293.5 317.9,291.8 319.5,290.6 M351.3,307.2 352.5,306.2 355.5,306.5 357.4,306.2 355.5,306.6 353.5,307.8 351.3,307.2 M370.3,302.5 371.6,301.5 373.0,300.2 374.7,299.2 373.6,300.8 372.0,302.7 370.9,302.9 370.3,302.5 M304.5,298.5 306.3,297.9 306.3,299.7 304.3,298.8 304.5,298.5 M360.0,289.5 357.9,289.0 356.2,287.2 356.8,285.3 356.8,282.0 358.1,280.7 359.0,279.1 359.1,277.1 359.6,274.7 361.1,275.5 362.9,273.2 365.2,274.6 364.3,277.2 366.0,278.2 367.5,278.2 369.4,276.3 369.4,276.0 370.8,274.1 368.9,274.1 367.5,273.1 368.8,271.7 370.0,270.3 371.0,269.1 373.9,267.4 372.9,269.6 372.9,271.7 371.6,274.3 373.7,274.2 375.8,274.8 377.9,275.2 380.6,276.1 382.5,277.5 383.1,278.6 382.2,280.2 380.8,281.3 378.9,282.2 377.2,283.3 375.5,284.0 373.8,284.3 371.1,283.7 369.0,284.3 367.5,285.4 365.9,286.3 363.5,287.9 361.9,289.6 360.0,289.5 M359.9,290.1 358.5,290.8 357.4,292.1 355.5,292.5 358.1,292.6 360.6,290.6 359.9,290.1 M392.1,256.5 394.0,256.3 395.6,255.3 397.0,256.7 397.7,258.7 396.4,260.0 395.1,261.2 394.1,263.4 396.7,263.7 398.4,264.1 400.4,264.4 401.8,266.6 403.7,268.3 404.2,269.2 406.3,270.7 408.1,272.4 409.1,274.5 408.1,276.5 406.2,277.7 404.5,279.4 402.0,278.9 398.7,278.0 398.2,275.1 399.2,273.6 399.3,272.3 396.9,271.8 394.0,271.1 391.3,269.7 390.4,267.3 389.6,264.7 388.7,263.0 389.3,260.4 389.7,258.0 392.1,256.5 M373.6,313.9 374.5,316.1 376.3,318.0 378.3,319.4 379.4,321.5 381.8,322.6 383.1,324.8 384.7,325.5 386.5,325.8 388.0,326.8 388.7,328.8 389.3,331.9 391.4,332.1 393.2,333.2 395.1,335.4 396.4,336.3 398.0,337.2 399.8,337.1 402.0,336.9 404.2,337.5 406.1,337.4 406.0,339.1 407.7,338.6 409.5,337.4 410.8,338.7 412.2,337.0 414.0,335.8 415.4,334.6 416.6,333.2 418.0,332.0 419.6,331.1 421.1,329.9 422.3,328.6 423.4,327.1 424.2,329.3 423.8,331.1 422.3,332.4 421.9,334.2 421.3,336.0 421.2,337.9 420.4,339.7 419.3,341.1 418.7,342.8 418.1,344.4 417.3,345.9 416.1,347.1 414.7,348.1 414.0,349.7 412.7,350.8 411.4,352.1 410.0,353.3 408.7,354.6 407.8,356.3 406.8,357.8 405.4,359.1 404.1,360.5 402.7,361.8 401.5,363.0 400.3,364.3 399.5,365.9 M373.6,313.9 375.0,314.9 375.3,316.6 376.6,318.0 379.0,317.4 379.0,315.2 379.4,312.9 379.4,314.7 380.0,316.5 382.5,317.9 383.8,319.0 385.5,319.5 387.0,320.2 389.1,321.8 390.5,323.5 392.6,324.6 393.0,325.8 394.5,326.8 396.4,327.1 398.1,328.6 399.9,330.0 401.8,330.3 403.8,330.8 404.6,333.4 405.6,335.8 406.8,337.0 408.2,335.7 409.6,334.3 411.5,333.5 412.8,332.1 413.8,330.4 415.4,329.1 416.9,327.7 418.2,326.1 419.1,324.5 420.2,323.1 421.4,321.8 422.2,320.1 423.1,318.8 423.9,317.4 425.2,316.3 426.1,314.7 427.4,313.4 428.4,312.0 429.6,309.9 430.4,307.7 430.7,306.0 432.1,304.7 432.0,302.9 432.2,301.0 433.2,299.4 433.4,297.6 432.8,295.8 433.2,293.9 430.4,294.2 428.3,294.8 425.9,295.8 424.7,293.4 423.0,295.8 422.3,298.1 421.7,300.4 420.5,301.5 419.5,302.9 418.4,303.7 416.0,301.7 415.1,300.8 415.1,302.4 415.5,303.8 413.5,302.2 411.4,301.5 409.6,301.0 407.9,300.1 405.8,298.7 406.5,296.4 408.6,295.0 410.2,295.6 411.8,296.1 414.1,295.9 416.5,296.6 418.0,296.0 419.1,294.7 420.8,293.9 421.9,292.7 423.3,291.2 426.2,292.1 427.6,290.7 429.4,290.1 430.9,288.9 432.5,287.8 433.7,286.3 434.9,284.8 436.2,283.4 437.3,281.9 439.0,281.2 440.2,279.9 440.7,278.2 442.0,276.6 445.0,276.7 446.9,277.0 450.1,276.1 451.9,274.6 453.5,272.8 M176.4,206.1 178.4,205.6 179.0,203.3 180.9,201.9 182.2,199.9 183.4,198.0 184.6,197.5 187.2,198.2 187.9,199.6 188.2,201.4 189.5,203.5 191.0,204.7 192.8,202.1 193.8,201.7 195.7,202.2 197.2,200.8 198.3,201.7 200.4,201.3 200.9,203.0 200.9,204.9 202.5,204.3 203.0,205.6 203.2,207.1 204.0,205.9 204.9,204.3 206.6,204.5 208.5,205.9 209.7,207.7 210.4,208.7 212.0,209.4 213.7,211.1 211.7,210.4 210.2,210.3 209.5,211.6 208.8,212.8 211.2,213.4 211.6,215.0 213.3,216.8 214.8,217.9 215.3,217.3 216.7,218.4 218.4,215.8 216.4,215.7 214.9,214.5 213.6,212.9 213.8,210.8 215.5,208.9 217.3,208.0 219.1,208.1 219.8,206.0 219.8,203.4 217.8,201.1 215.8,200.0 217.1,200.3 219.4,202.1 220.8,202.6 222.1,204.2 223.0,206.0 223.5,207.9 224.4,209.6 225.6,212.7 227.7,213.2 228.8,214.9 230.2,216.2 232.5,214.8 234.3,212.7 234.4,210.8 235.2,209.1 235.2,207.5 235.4,205.9 235.6,204.2 236.5,202.6 237.6,201.4 239.8,199.6 241.6,196.9 241.8,195.1 242.8,193.9 244.8,191.6 242.3,192.6 240.7,191.7 238.9,189.5 241.4,187.7 243.1,185.6 244.8,184.6 245.4,182.8 245.9,181.3 246.4,179.9 247.7,177.4 247.0,175.3 244.8,175.6 242.3,176.5 240.4,176.7 238.8,178.0 236.4,179.1 234.2,180.6 231.8,181.5 229.6,180.8 227.0,178.7 224.9,181.1 222.3,181.6 221.1,180.0 222.7,178.4 224.4,175.9 227.0,174.7 228.3,173.8 230.0,173.1 230.7,171.3 231.4,169.6 232.4,167.5 233.3,165.3 234.3,163.5 236.0,162.2 237.0,160.7 238.4,159.6 239.2,157.9 240.8,157.2 243.6,156.1 245.7,157.1 247.2,157.9 248.9,158.3 249.6,160.4 M225.2,227.0 222.9,228.2 222.8,225.8 221.6,224.0 222.9,221.9 221.6,220.5 220.7,218.8 220.3,217.3 222.5,216.2 224.7,215.8 227.2,215.5 228.9,216.1 230.9,216.9 228.1,217.4 226.9,218.7 227.3,221.2 227.1,222.9 226.0,224.2 225.2,227.0 M221.4,211.1 221.8,209.4 222.0,207.7 221.8,206.2 220.8,206.3 221.3,208.3 221.1,210.4 221.4,211.1 M215.4,215.1 214.9,213.2 215.4,210.8 214.3,211.1 215.0,213.8 215.4,215.1 M211.4,176.9 212.2,174.3 211.9,172.0 213.6,170.0 212.9,166.9 213.4,164.4 215.1,166.1 215.8,167.4 217.3,169.2 216.7,171.2 215.7,172.2 214.6,175.4 212.6,176.6 211.4,176.9 M210.0,176.5 210.7,173.8 209.9,173.0 208.1,173.7 205.2,173.5 203.0,174.9 202.6,176.5 204.0,177.0 205.7,175.5 207.5,175.8 208.8,176.3 210.0,176.5 M210.0,177.1 209.4,179.8 207.1,180.9 205.6,180.2 204.9,181.8 204.4,183.2 205.3,183.7 207.0,183.7 209.0,182.9 208.1,184.4 207.9,186.2 208.7,184.3 210.2,182.4 210.8,179.5 210.0,177.1 M202.5,182.8 201.8,184.6 201.1,186.1 202.2,188.7 203.9,189.8 203.3,188.1 203.2,185.7 202.5,182.8 M204.6,187.9 205.3,188.2 206.3,191.2 206.2,192.6 205.7,193.7 204.6,191.7 204.4,189.8 204.6,187.9 M223.7,155.1 226.0,153.6 227.6,153.1 229.4,153.0 230.5,152.0 230.8,153.0 229.2,153.9 227.6,154.7 226.2,155.8 224.5,155.7 223.7,155.1" fill="none" stroke="#1a1020" stroke-width="0.9" stroke-linejoin="round" stroke-linecap="round"/>
</g>
<circle cx="320.75" cy="238.75" r="159.20000000000002" fill="none" stroke="#888" stroke-width="1.3"/>
<!-- colorbar -->
<rect x="331" y="424.5" width="200" height="16.5" fill="url(#cb)"/>
<path d="M331,424.5 L322.5,432.75 L331,441 Z" fill="#f2e4e6" stroke="#000" stroke-width="1.6" stroke-linejoin="miter"/>
<path d="M531,424.5 L539.5,432.75 L531,441 Z" fill="#403030" stroke="#000" stroke-width="1.6"/>
<rect x="331" y="424.5" width="200" height="16.5" fill="none" stroke="#000" stroke-width="1.8"/>
<g stroke="#777" stroke-width="1">
<line x1="331" y1="441" x2="331" y2="446.5"/><line x1="341" y1="441" x2="341" y2="444"/><line x1="351" y1="441" x2="351" y2="444"/><line x1="361" y1="441" x2="361" y2="444"/><line x1="371" y1="441" x2="371" y2="446.5"/><line x1="381" y1="441" x2="381" y2="444"/><line x1="391" y1="441" x2="391" y2="444"/><line x1="401" y1="441" x2="401" y2="444"/><line x1="411" y1="441" x2="411" y2="446.5"/><line x1="421" y1="441" x2="421" y2="444"/><line x1="431" y1="441" x2="431" y2="444"/><line x1="441" y1="441" x2="441" y2="444"/><line x1="451" y1="441" x2="451" y2="446.5"/><line x1="461" y1="441" x2="461" y2="444"/><line x1="471" y1="441" x2="471" y2="444"/><line x1="481" y1="441" x2="481" y2="444"/><line x1="491" y1="441" x2="491" y2="446.5"/><line x1="501" y1="441" x2="501" y2="444"/><line x1="511" y1="441" x2="511" y2="444"/><line x1="521" y1="441" x2="521" y2="444"/><line x1="531" y1="441" x2="531" y2="446.5"/>
</g>
<g font-size="13" text-anchor="middle">
<text x="331" y="462.8">0</text><text x="371" y="462.8">1</text><text x="411" y="462.8">2</text><text x="451" y="462.8">3</text><text x="491" y="462.8">4</text><text x="531" y="462.8">5</text>
</g>
<!-- RIU logo -->
<path d="M559.7,400.3 C563,399 566,397.8 569,397.3" fill="none" stroke="#1e1ed0" stroke-width="1.8"/>
<path d="M577.5,396.2 C583,398 588,402.6 594.5,402.9 C603,402.9 613,399 623,396.3" fill="none" stroke="#1e1ed0" stroke-width="2.6"/>
<path d="M568.3,400.5 L568.3,392 L569.5,384 L570.3,376.5 L571.3,384 L572.3,392 L573.6,386 L574.8,377.3 L575.8,384 L577.3,392 L577.6,400.5 Z" fill="#707070"/>
<text x="579.6" y="394.7" font-size="25" font-style="italic">RIU</text>
<!-- DLR logo -->
<g fill="none" stroke="#000" stroke-linejoin="miter">
<path d="M577.5,431.45 L618.3,431.45 L608.5,439.8 L567.5,439.8 Z" stroke-width="2.9"/>
<path d="M604.3,416.5 L604.3,428.5 L581.6,455.5 L581.6,443 Z" stroke-width="2.7"/>
</g>
<text x="595.2" y="462.2" font-size="14">DLR</text>
</svg>
</body></html>
